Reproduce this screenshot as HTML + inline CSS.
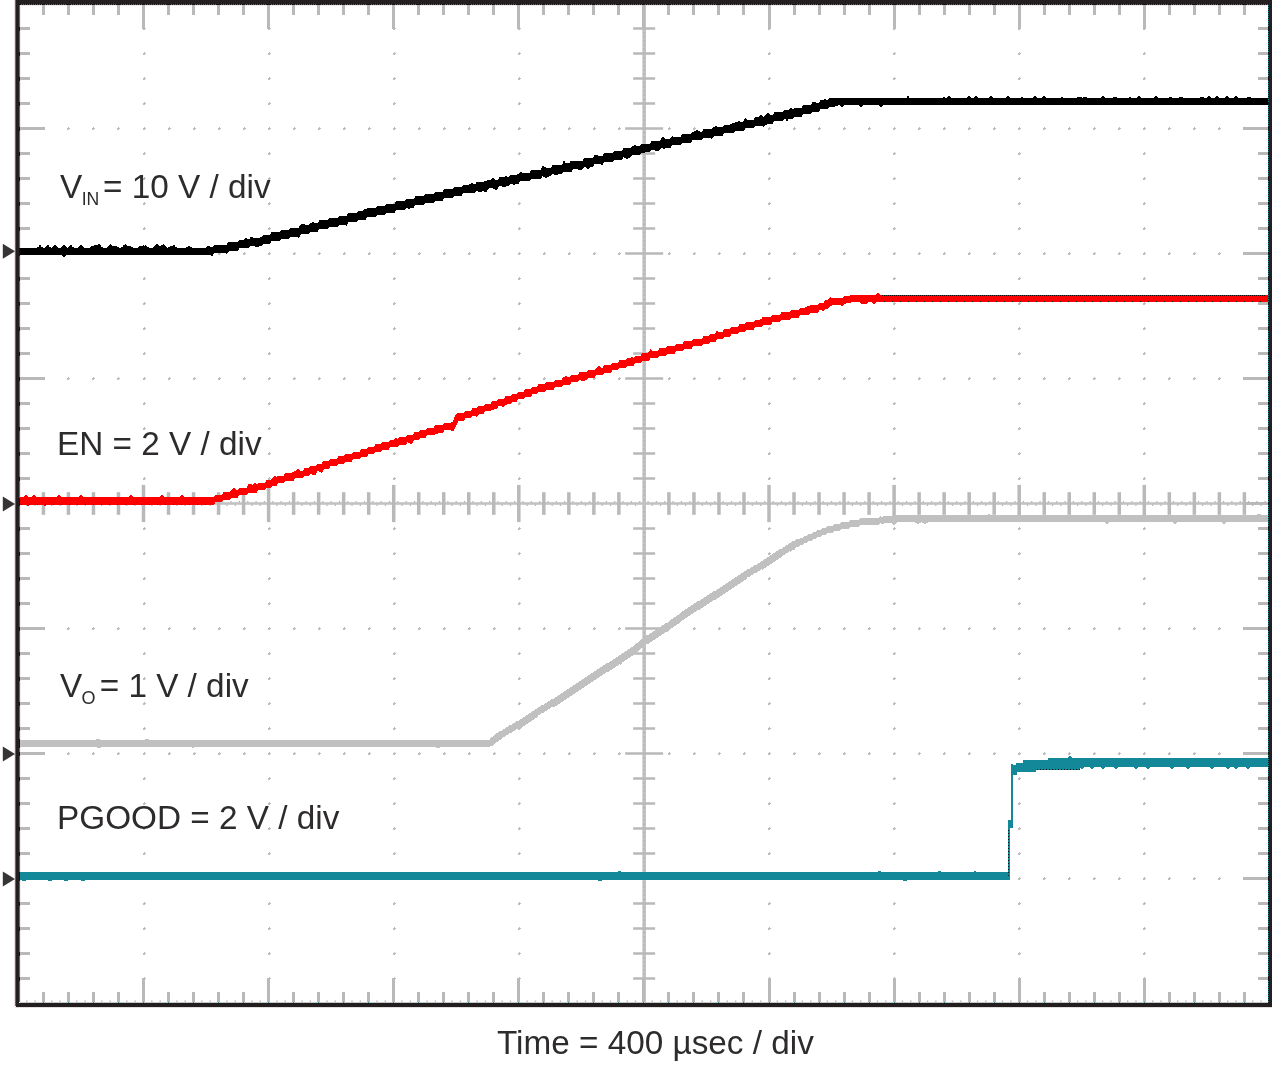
<!DOCTYPE html>
<html><head><meta charset="utf-8"><title>Soft-start waveforms: VIN, EN, VO, PGOOD</title>
<style>html,body{margin:0;padding:0;background:#fff;}svg{display:block;}</style></head>
<body><svg width="1272" height="1070" viewBox="0 0 1272 1070">
<rect width="1272" height="1070" fill="#fff"/>
<g shape-rendering="crispEdges"><rect x="14" y="0" width="1" height="1007" fill="#ece2e2"/><rect x="20" y="5" width="1" height="997" fill="#f3eaea"/><rect x="20" y="5" width="1248" height="1" fill="#f3eaea"/><rect x="15" y="1007" width="1257" height="1" fill="#e4e0e0"/></g>
<g fill="#bdbdbd" shape-rendering="crispEdges">
<path d="M143 28h2v2h-2zM144 27h1v1h-1zM145 28h1v1h-1z"/>
<path d="M143 53h2v2h-2zM144 52h1v1h-1zM145 53h1v1h-1z"/>
<path d="M143 78h2v2h-2zM144 77h1v1h-1zM145 78h1v1h-1z"/>
<path d="M143 103h2v2h-2zM144 102h1v1h-1zM145 103h1v1h-1z"/>
<path d="M143 128h2v2h-2zM144 127h1v1h-1zM145 128h1v1h-1z"/>
<path d="M143 153h2v2h-2zM144 152h1v1h-1zM145 153h1v1h-1z"/>
<path d="M143 178h2v2h-2zM144 177h1v1h-1zM145 178h1v1h-1z"/>
<path d="M143 203h2v2h-2zM144 202h1v1h-1zM145 203h1v1h-1z"/>
<path d="M143 228h2v2h-2zM144 227h1v1h-1zM145 228h1v1h-1z"/>
<path d="M143 253h2v2h-2zM144 252h1v1h-1zM145 253h1v1h-1z"/>
<path d="M143 278h2v2h-2zM144 277h1v1h-1zM145 278h1v1h-1z"/>
<path d="M143 303h2v2h-2zM144 302h1v1h-1zM145 303h1v1h-1z"/>
<path d="M143 328h2v2h-2zM144 327h1v1h-1zM145 328h1v1h-1z"/>
<path d="M143 353h2v2h-2zM144 352h1v1h-1zM145 353h1v1h-1z"/>
<path d="M143 378h2v2h-2zM144 377h1v1h-1zM145 378h1v1h-1z"/>
<path d="M143 403h2v2h-2zM144 402h1v1h-1zM145 403h1v1h-1z"/>
<path d="M143 428h2v2h-2zM144 427h1v1h-1zM145 428h1v1h-1z"/>
<path d="M143 453h2v2h-2zM144 452h1v1h-1zM145 453h1v1h-1z"/>
<path d="M143 478h2v2h-2zM144 477h1v1h-1zM145 478h1v1h-1z"/>
<path d="M143 528h2v2h-2zM144 527h1v1h-1zM145 528h1v1h-1z"/>
<path d="M143 553h2v2h-2zM144 552h1v1h-1zM145 553h1v1h-1z"/>
<path d="M143 578h2v2h-2zM144 577h1v1h-1zM145 578h1v1h-1z"/>
<path d="M143 603h2v2h-2zM144 602h1v1h-1zM145 603h1v1h-1z"/>
<path d="M143 628h2v2h-2zM144 627h1v1h-1zM145 628h1v1h-1z"/>
<path d="M143 653h2v2h-2zM144 652h1v1h-1zM145 653h1v1h-1z"/>
<path d="M143 678h2v2h-2zM144 677h1v1h-1zM145 678h1v1h-1z"/>
<path d="M143 703h2v2h-2zM144 702h1v1h-1zM145 703h1v1h-1z"/>
<path d="M143 728h2v2h-2zM144 727h1v1h-1zM145 728h1v1h-1z"/>
<path d="M143 753h2v2h-2zM144 752h1v1h-1zM145 753h1v1h-1z"/>
<path d="M143 778h2v2h-2zM144 777h1v1h-1zM145 778h1v1h-1z"/>
<path d="M143 803h2v2h-2zM144 802h1v1h-1zM145 803h1v1h-1z"/>
<path d="M143 828h2v2h-2zM144 827h1v1h-1zM145 828h1v1h-1z"/>
<path d="M143 853h2v2h-2zM144 852h1v1h-1zM145 853h1v1h-1z"/>
<path d="M143 878h2v2h-2zM144 877h1v1h-1zM145 878h1v1h-1z"/>
<path d="M143 903h2v2h-2zM144 902h1v1h-1zM145 903h1v1h-1z"/>
<path d="M143 928h2v2h-2zM144 927h1v1h-1zM145 928h1v1h-1z"/>
<path d="M143 953h2v2h-2zM144 952h1v1h-1zM145 953h1v1h-1z"/>
<path d="M143 978h2v2h-2zM144 977h1v1h-1zM145 978h1v1h-1z"/>
<path d="M268 28h2v2h-2zM269 27h1v1h-1zM270 28h1v1h-1z"/>
<path d="M268 53h2v2h-2zM269 52h1v1h-1zM270 53h1v1h-1z"/>
<path d="M268 78h2v2h-2zM269 77h1v1h-1zM270 78h1v1h-1z"/>
<path d="M268 103h2v2h-2zM269 102h1v1h-1zM270 103h1v1h-1z"/>
<path d="M268 128h2v2h-2zM269 127h1v1h-1zM270 128h1v1h-1z"/>
<path d="M268 153h2v2h-2zM269 152h1v1h-1zM270 153h1v1h-1z"/>
<path d="M268 178h2v2h-2zM269 177h1v1h-1zM270 178h1v1h-1z"/>
<path d="M268 203h2v2h-2zM269 202h1v1h-1zM270 203h1v1h-1z"/>
<path d="M268 228h2v2h-2zM269 227h1v1h-1zM270 228h1v1h-1z"/>
<path d="M268 253h2v2h-2zM269 252h1v1h-1zM270 253h1v1h-1z"/>
<path d="M268 278h2v2h-2zM269 277h1v1h-1zM270 278h1v1h-1z"/>
<path d="M268 303h2v2h-2zM269 302h1v1h-1zM270 303h1v1h-1z"/>
<path d="M268 328h2v2h-2zM269 327h1v1h-1zM270 328h1v1h-1z"/>
<path d="M268 353h2v2h-2zM269 352h1v1h-1zM270 353h1v1h-1z"/>
<path d="M268 378h2v2h-2zM269 377h1v1h-1zM270 378h1v1h-1z"/>
<path d="M268 403h2v2h-2zM269 402h1v1h-1zM270 403h1v1h-1z"/>
<path d="M268 428h2v2h-2zM269 427h1v1h-1zM270 428h1v1h-1z"/>
<path d="M268 453h2v2h-2zM269 452h1v1h-1zM270 453h1v1h-1z"/>
<path d="M268 478h2v2h-2zM269 477h1v1h-1zM270 478h1v1h-1z"/>
<path d="M268 528h2v2h-2zM269 527h1v1h-1zM270 528h1v1h-1z"/>
<path d="M268 553h2v2h-2zM269 552h1v1h-1zM270 553h1v1h-1z"/>
<path d="M268 578h2v2h-2zM269 577h1v1h-1zM270 578h1v1h-1z"/>
<path d="M268 603h2v2h-2zM269 602h1v1h-1zM270 603h1v1h-1z"/>
<path d="M268 628h2v2h-2zM269 627h1v1h-1zM270 628h1v1h-1z"/>
<path d="M268 653h2v2h-2zM269 652h1v1h-1zM270 653h1v1h-1z"/>
<path d="M268 678h2v2h-2zM269 677h1v1h-1zM270 678h1v1h-1z"/>
<path d="M268 703h2v2h-2zM269 702h1v1h-1zM270 703h1v1h-1z"/>
<path d="M268 728h2v2h-2zM269 727h1v1h-1zM270 728h1v1h-1z"/>
<path d="M268 753h2v2h-2zM269 752h1v1h-1zM270 753h1v1h-1z"/>
<path d="M268 778h2v2h-2zM269 777h1v1h-1zM270 778h1v1h-1z"/>
<path d="M268 803h2v2h-2zM269 802h1v1h-1zM270 803h1v1h-1z"/>
<path d="M268 828h2v2h-2zM269 827h1v1h-1zM270 828h1v1h-1z"/>
<path d="M268 853h2v2h-2zM269 852h1v1h-1zM270 853h1v1h-1z"/>
<path d="M268 878h2v2h-2zM269 877h1v1h-1zM270 878h1v1h-1z"/>
<path d="M268 903h2v2h-2zM269 902h1v1h-1zM270 903h1v1h-1z"/>
<path d="M268 928h2v2h-2zM269 927h1v1h-1zM270 928h1v1h-1z"/>
<path d="M268 953h2v2h-2zM269 952h1v1h-1zM270 953h1v1h-1z"/>
<path d="M268 978h2v2h-2zM269 977h1v1h-1zM270 978h1v1h-1z"/>
<path d="M393 28h2v2h-2zM394 27h1v1h-1zM395 28h1v1h-1z"/>
<path d="M393 53h2v2h-2zM394 52h1v1h-1zM395 53h1v1h-1z"/>
<path d="M393 78h2v2h-2zM394 77h1v1h-1zM395 78h1v1h-1z"/>
<path d="M393 103h2v2h-2zM394 102h1v1h-1zM395 103h1v1h-1z"/>
<path d="M393 128h2v2h-2zM394 127h1v1h-1zM395 128h1v1h-1z"/>
<path d="M393 153h2v2h-2zM394 152h1v1h-1zM395 153h1v1h-1z"/>
<path d="M393 178h2v2h-2zM394 177h1v1h-1zM395 178h1v1h-1z"/>
<path d="M393 203h2v2h-2zM394 202h1v1h-1zM395 203h1v1h-1z"/>
<path d="M393 228h2v2h-2zM394 227h1v1h-1zM395 228h1v1h-1z"/>
<path d="M393 253h2v2h-2zM394 252h1v1h-1zM395 253h1v1h-1z"/>
<path d="M393 278h2v2h-2zM394 277h1v1h-1zM395 278h1v1h-1z"/>
<path d="M393 303h2v2h-2zM394 302h1v1h-1zM395 303h1v1h-1z"/>
<path d="M393 328h2v2h-2zM394 327h1v1h-1zM395 328h1v1h-1z"/>
<path d="M393 353h2v2h-2zM394 352h1v1h-1zM395 353h1v1h-1z"/>
<path d="M393 378h2v2h-2zM394 377h1v1h-1zM395 378h1v1h-1z"/>
<path d="M393 403h2v2h-2zM394 402h1v1h-1zM395 403h1v1h-1z"/>
<path d="M393 428h2v2h-2zM394 427h1v1h-1zM395 428h1v1h-1z"/>
<path d="M393 453h2v2h-2zM394 452h1v1h-1zM395 453h1v1h-1z"/>
<path d="M393 478h2v2h-2zM394 477h1v1h-1zM395 478h1v1h-1z"/>
<path d="M393 528h2v2h-2zM394 527h1v1h-1zM395 528h1v1h-1z"/>
<path d="M393 553h2v2h-2zM394 552h1v1h-1zM395 553h1v1h-1z"/>
<path d="M393 578h2v2h-2zM394 577h1v1h-1zM395 578h1v1h-1z"/>
<path d="M393 603h2v2h-2zM394 602h1v1h-1zM395 603h1v1h-1z"/>
<path d="M393 628h2v2h-2zM394 627h1v1h-1zM395 628h1v1h-1z"/>
<path d="M393 653h2v2h-2zM394 652h1v1h-1zM395 653h1v1h-1z"/>
<path d="M393 678h2v2h-2zM394 677h1v1h-1zM395 678h1v1h-1z"/>
<path d="M393 703h2v2h-2zM394 702h1v1h-1zM395 703h1v1h-1z"/>
<path d="M393 728h2v2h-2zM394 727h1v1h-1zM395 728h1v1h-1z"/>
<path d="M393 753h2v2h-2zM394 752h1v1h-1zM395 753h1v1h-1z"/>
<path d="M393 778h2v2h-2zM394 777h1v1h-1zM395 778h1v1h-1z"/>
<path d="M393 803h2v2h-2zM394 802h1v1h-1zM395 803h1v1h-1z"/>
<path d="M393 828h2v2h-2zM394 827h1v1h-1zM395 828h1v1h-1z"/>
<path d="M393 853h2v2h-2zM394 852h1v1h-1zM395 853h1v1h-1z"/>
<path d="M393 878h2v2h-2zM394 877h1v1h-1zM395 878h1v1h-1z"/>
<path d="M393 903h2v2h-2zM394 902h1v1h-1zM395 903h1v1h-1z"/>
<path d="M393 928h2v2h-2zM394 927h1v1h-1zM395 928h1v1h-1z"/>
<path d="M393 953h2v2h-2zM394 952h1v1h-1zM395 953h1v1h-1z"/>
<path d="M393 978h2v2h-2zM394 977h1v1h-1zM395 978h1v1h-1z"/>
<path d="M518 28h2v2h-2zM519 27h1v1h-1zM520 28h1v1h-1z"/>
<path d="M518 53h2v2h-2zM519 52h1v1h-1zM520 53h1v1h-1z"/>
<path d="M518 78h2v2h-2zM519 77h1v1h-1zM520 78h1v1h-1z"/>
<path d="M518 103h2v2h-2zM519 102h1v1h-1zM520 103h1v1h-1z"/>
<path d="M518 128h2v2h-2zM519 127h1v1h-1zM520 128h1v1h-1z"/>
<path d="M518 153h2v2h-2zM519 152h1v1h-1zM520 153h1v1h-1z"/>
<path d="M518 178h2v2h-2zM519 177h1v1h-1zM520 178h1v1h-1z"/>
<path d="M518 203h2v2h-2zM519 202h1v1h-1zM520 203h1v1h-1z"/>
<path d="M518 228h2v2h-2zM519 227h1v1h-1zM520 228h1v1h-1z"/>
<path d="M518 253h2v2h-2zM519 252h1v1h-1zM520 253h1v1h-1z"/>
<path d="M518 278h2v2h-2zM519 277h1v1h-1zM520 278h1v1h-1z"/>
<path d="M518 303h2v2h-2zM519 302h1v1h-1zM520 303h1v1h-1z"/>
<path d="M518 328h2v2h-2zM519 327h1v1h-1zM520 328h1v1h-1z"/>
<path d="M518 353h2v2h-2zM519 352h1v1h-1zM520 353h1v1h-1z"/>
<path d="M518 378h2v2h-2zM519 377h1v1h-1zM520 378h1v1h-1z"/>
<path d="M518 403h2v2h-2zM519 402h1v1h-1zM520 403h1v1h-1z"/>
<path d="M518 428h2v2h-2zM519 427h1v1h-1zM520 428h1v1h-1z"/>
<path d="M518 453h2v2h-2zM519 452h1v1h-1zM520 453h1v1h-1z"/>
<path d="M518 478h2v2h-2zM519 477h1v1h-1zM520 478h1v1h-1z"/>
<path d="M518 528h2v2h-2zM519 527h1v1h-1zM520 528h1v1h-1z"/>
<path d="M518 553h2v2h-2zM519 552h1v1h-1zM520 553h1v1h-1z"/>
<path d="M518 578h2v2h-2zM519 577h1v1h-1zM520 578h1v1h-1z"/>
<path d="M518 603h2v2h-2zM519 602h1v1h-1zM520 603h1v1h-1z"/>
<path d="M518 628h2v2h-2zM519 627h1v1h-1zM520 628h1v1h-1z"/>
<path d="M518 653h2v2h-2zM519 652h1v1h-1zM520 653h1v1h-1z"/>
<path d="M518 678h2v2h-2zM519 677h1v1h-1zM520 678h1v1h-1z"/>
<path d="M518 703h2v2h-2zM519 702h1v1h-1zM520 703h1v1h-1z"/>
<path d="M518 728h2v2h-2zM519 727h1v1h-1zM520 728h1v1h-1z"/>
<path d="M518 753h2v2h-2zM519 752h1v1h-1zM520 753h1v1h-1z"/>
<path d="M518 778h2v2h-2zM519 777h1v1h-1zM520 778h1v1h-1z"/>
<path d="M518 803h2v2h-2zM519 802h1v1h-1zM520 803h1v1h-1z"/>
<path d="M518 828h2v2h-2zM519 827h1v1h-1zM520 828h1v1h-1z"/>
<path d="M518 853h2v2h-2zM519 852h1v1h-1zM520 853h1v1h-1z"/>
<path d="M518 878h2v2h-2zM519 877h1v1h-1zM520 878h1v1h-1z"/>
<path d="M518 903h2v2h-2zM519 902h1v1h-1zM520 903h1v1h-1z"/>
<path d="M518 928h2v2h-2zM519 927h1v1h-1zM520 928h1v1h-1z"/>
<path d="M518 953h2v2h-2zM519 952h1v1h-1zM520 953h1v1h-1z"/>
<path d="M518 978h2v2h-2zM519 977h1v1h-1zM520 978h1v1h-1z"/>
<path d="M768 28h2v2h-2zM769 27h1v1h-1zM770 28h1v1h-1z"/>
<path d="M768 53h2v2h-2zM769 52h1v1h-1zM770 53h1v1h-1z"/>
<path d="M768 78h2v2h-2zM769 77h1v1h-1zM770 78h1v1h-1z"/>
<path d="M768 103h2v2h-2zM769 102h1v1h-1zM770 103h1v1h-1z"/>
<path d="M768 128h2v2h-2zM769 127h1v1h-1zM770 128h1v1h-1z"/>
<path d="M768 153h2v2h-2zM769 152h1v1h-1zM770 153h1v1h-1z"/>
<path d="M768 178h2v2h-2zM769 177h1v1h-1zM770 178h1v1h-1z"/>
<path d="M768 203h2v2h-2zM769 202h1v1h-1zM770 203h1v1h-1z"/>
<path d="M768 228h2v2h-2zM769 227h1v1h-1zM770 228h1v1h-1z"/>
<path d="M768 253h2v2h-2zM769 252h1v1h-1zM770 253h1v1h-1z"/>
<path d="M768 278h2v2h-2zM769 277h1v1h-1zM770 278h1v1h-1z"/>
<path d="M768 303h2v2h-2zM769 302h1v1h-1zM770 303h1v1h-1z"/>
<path d="M768 328h2v2h-2zM769 327h1v1h-1zM770 328h1v1h-1z"/>
<path d="M768 353h2v2h-2zM769 352h1v1h-1zM770 353h1v1h-1z"/>
<path d="M768 378h2v2h-2zM769 377h1v1h-1zM770 378h1v1h-1z"/>
<path d="M768 403h2v2h-2zM769 402h1v1h-1zM770 403h1v1h-1z"/>
<path d="M768 428h2v2h-2zM769 427h1v1h-1zM770 428h1v1h-1z"/>
<path d="M768 453h2v2h-2zM769 452h1v1h-1zM770 453h1v1h-1z"/>
<path d="M768 478h2v2h-2zM769 477h1v1h-1zM770 478h1v1h-1z"/>
<path d="M768 528h2v2h-2zM769 527h1v1h-1zM770 528h1v1h-1z"/>
<path d="M768 553h2v2h-2zM769 552h1v1h-1zM770 553h1v1h-1z"/>
<path d="M768 578h2v2h-2zM769 577h1v1h-1zM770 578h1v1h-1z"/>
<path d="M768 603h2v2h-2zM769 602h1v1h-1zM770 603h1v1h-1z"/>
<path d="M768 628h2v2h-2zM769 627h1v1h-1zM770 628h1v1h-1z"/>
<path d="M768 653h2v2h-2zM769 652h1v1h-1zM770 653h1v1h-1z"/>
<path d="M768 678h2v2h-2zM769 677h1v1h-1zM770 678h1v1h-1z"/>
<path d="M768 703h2v2h-2zM769 702h1v1h-1zM770 703h1v1h-1z"/>
<path d="M768 728h2v2h-2zM769 727h1v1h-1zM770 728h1v1h-1z"/>
<path d="M768 753h2v2h-2zM769 752h1v1h-1zM770 753h1v1h-1z"/>
<path d="M768 778h2v2h-2zM769 777h1v1h-1zM770 778h1v1h-1z"/>
<path d="M768 803h2v2h-2zM769 802h1v1h-1zM770 803h1v1h-1z"/>
<path d="M768 828h2v2h-2zM769 827h1v1h-1zM770 828h1v1h-1z"/>
<path d="M768 853h2v2h-2zM769 852h1v1h-1zM770 853h1v1h-1z"/>
<path d="M768 878h2v2h-2zM769 877h1v1h-1zM770 878h1v1h-1z"/>
<path d="M768 903h2v2h-2zM769 902h1v1h-1zM770 903h1v1h-1z"/>
<path d="M768 928h2v2h-2zM769 927h1v1h-1zM770 928h1v1h-1z"/>
<path d="M768 953h2v2h-2zM769 952h1v1h-1zM770 953h1v1h-1z"/>
<path d="M768 978h2v2h-2zM769 977h1v1h-1zM770 978h1v1h-1z"/>
<path d="M893 28h2v2h-2zM894 27h1v1h-1zM895 28h1v1h-1z"/>
<path d="M893 53h2v2h-2zM894 52h1v1h-1zM895 53h1v1h-1z"/>
<path d="M893 78h2v2h-2zM894 77h1v1h-1zM895 78h1v1h-1z"/>
<path d="M893 103h2v2h-2zM894 102h1v1h-1zM895 103h1v1h-1z"/>
<path d="M893 128h2v2h-2zM894 127h1v1h-1zM895 128h1v1h-1z"/>
<path d="M893 153h2v2h-2zM894 152h1v1h-1zM895 153h1v1h-1z"/>
<path d="M893 178h2v2h-2zM894 177h1v1h-1zM895 178h1v1h-1z"/>
<path d="M893 203h2v2h-2zM894 202h1v1h-1zM895 203h1v1h-1z"/>
<path d="M893 228h2v2h-2zM894 227h1v1h-1zM895 228h1v1h-1z"/>
<path d="M893 253h2v2h-2zM894 252h1v1h-1zM895 253h1v1h-1z"/>
<path d="M893 278h2v2h-2zM894 277h1v1h-1zM895 278h1v1h-1z"/>
<path d="M893 303h2v2h-2zM894 302h1v1h-1zM895 303h1v1h-1z"/>
<path d="M893 328h2v2h-2zM894 327h1v1h-1zM895 328h1v1h-1z"/>
<path d="M893 353h2v2h-2zM894 352h1v1h-1zM895 353h1v1h-1z"/>
<path d="M893 378h2v2h-2zM894 377h1v1h-1zM895 378h1v1h-1z"/>
<path d="M893 403h2v2h-2zM894 402h1v1h-1zM895 403h1v1h-1z"/>
<path d="M893 428h2v2h-2zM894 427h1v1h-1zM895 428h1v1h-1z"/>
<path d="M893 453h2v2h-2zM894 452h1v1h-1zM895 453h1v1h-1z"/>
<path d="M893 478h2v2h-2zM894 477h1v1h-1zM895 478h1v1h-1z"/>
<path d="M893 528h2v2h-2zM894 527h1v1h-1zM895 528h1v1h-1z"/>
<path d="M893 553h2v2h-2zM894 552h1v1h-1zM895 553h1v1h-1z"/>
<path d="M893 578h2v2h-2zM894 577h1v1h-1zM895 578h1v1h-1z"/>
<path d="M893 603h2v2h-2zM894 602h1v1h-1zM895 603h1v1h-1z"/>
<path d="M893 628h2v2h-2zM894 627h1v1h-1zM895 628h1v1h-1z"/>
<path d="M893 653h2v2h-2zM894 652h1v1h-1zM895 653h1v1h-1z"/>
<path d="M893 678h2v2h-2zM894 677h1v1h-1zM895 678h1v1h-1z"/>
<path d="M893 703h2v2h-2zM894 702h1v1h-1zM895 703h1v1h-1z"/>
<path d="M893 728h2v2h-2zM894 727h1v1h-1zM895 728h1v1h-1z"/>
<path d="M893 753h2v2h-2zM894 752h1v1h-1zM895 753h1v1h-1z"/>
<path d="M893 778h2v2h-2zM894 777h1v1h-1zM895 778h1v1h-1z"/>
<path d="M893 803h2v2h-2zM894 802h1v1h-1zM895 803h1v1h-1z"/>
<path d="M893 828h2v2h-2zM894 827h1v1h-1zM895 828h1v1h-1z"/>
<path d="M893 853h2v2h-2zM894 852h1v1h-1zM895 853h1v1h-1z"/>
<path d="M893 878h2v2h-2zM894 877h1v1h-1zM895 878h1v1h-1z"/>
<path d="M893 903h2v2h-2zM894 902h1v1h-1zM895 903h1v1h-1z"/>
<path d="M893 928h2v2h-2zM894 927h1v1h-1zM895 928h1v1h-1z"/>
<path d="M893 953h2v2h-2zM894 952h1v1h-1zM895 953h1v1h-1z"/>
<path d="M893 978h2v2h-2zM894 977h1v1h-1zM895 978h1v1h-1z"/>
<path d="M1018 28h2v2h-2zM1019 27h1v1h-1zM1020 28h1v1h-1z"/>
<path d="M1018 53h2v2h-2zM1019 52h1v1h-1zM1020 53h1v1h-1z"/>
<path d="M1018 78h2v2h-2zM1019 77h1v1h-1zM1020 78h1v1h-1z"/>
<path d="M1018 103h2v2h-2zM1019 102h1v1h-1zM1020 103h1v1h-1z"/>
<path d="M1018 128h2v2h-2zM1019 127h1v1h-1zM1020 128h1v1h-1z"/>
<path d="M1018 153h2v2h-2zM1019 152h1v1h-1zM1020 153h1v1h-1z"/>
<path d="M1018 178h2v2h-2zM1019 177h1v1h-1zM1020 178h1v1h-1z"/>
<path d="M1018 203h2v2h-2zM1019 202h1v1h-1zM1020 203h1v1h-1z"/>
<path d="M1018 228h2v2h-2zM1019 227h1v1h-1zM1020 228h1v1h-1z"/>
<path d="M1018 253h2v2h-2zM1019 252h1v1h-1zM1020 253h1v1h-1z"/>
<path d="M1018 278h2v2h-2zM1019 277h1v1h-1zM1020 278h1v1h-1z"/>
<path d="M1018 303h2v2h-2zM1019 302h1v1h-1zM1020 303h1v1h-1z"/>
<path d="M1018 328h2v2h-2zM1019 327h1v1h-1zM1020 328h1v1h-1z"/>
<path d="M1018 353h2v2h-2zM1019 352h1v1h-1zM1020 353h1v1h-1z"/>
<path d="M1018 378h2v2h-2zM1019 377h1v1h-1zM1020 378h1v1h-1z"/>
<path d="M1018 403h2v2h-2zM1019 402h1v1h-1zM1020 403h1v1h-1z"/>
<path d="M1018 428h2v2h-2zM1019 427h1v1h-1zM1020 428h1v1h-1z"/>
<path d="M1018 453h2v2h-2zM1019 452h1v1h-1zM1020 453h1v1h-1z"/>
<path d="M1018 478h2v2h-2zM1019 477h1v1h-1zM1020 478h1v1h-1z"/>
<path d="M1018 528h2v2h-2zM1019 527h1v1h-1zM1020 528h1v1h-1z"/>
<path d="M1018 553h2v2h-2zM1019 552h1v1h-1zM1020 553h1v1h-1z"/>
<path d="M1018 578h2v2h-2zM1019 577h1v1h-1zM1020 578h1v1h-1z"/>
<path d="M1018 603h2v2h-2zM1019 602h1v1h-1zM1020 603h1v1h-1z"/>
<path d="M1018 628h2v2h-2zM1019 627h1v1h-1zM1020 628h1v1h-1z"/>
<path d="M1018 653h2v2h-2zM1019 652h1v1h-1zM1020 653h1v1h-1z"/>
<path d="M1018 678h2v2h-2zM1019 677h1v1h-1zM1020 678h1v1h-1z"/>
<path d="M1018 703h2v2h-2zM1019 702h1v1h-1zM1020 703h1v1h-1z"/>
<path d="M1018 728h2v2h-2zM1019 727h1v1h-1zM1020 728h1v1h-1z"/>
<path d="M1018 753h2v2h-2zM1019 752h1v1h-1zM1020 753h1v1h-1z"/>
<path d="M1018 778h2v2h-2zM1019 777h1v1h-1zM1020 778h1v1h-1z"/>
<path d="M1018 803h2v2h-2zM1019 802h1v1h-1zM1020 803h1v1h-1z"/>
<path d="M1018 828h2v2h-2zM1019 827h1v1h-1zM1020 828h1v1h-1z"/>
<path d="M1018 853h2v2h-2zM1019 852h1v1h-1zM1020 853h1v1h-1z"/>
<path d="M1018 878h2v2h-2zM1019 877h1v1h-1zM1020 878h1v1h-1z"/>
<path d="M1018 903h2v2h-2zM1019 902h1v1h-1zM1020 903h1v1h-1z"/>
<path d="M1018 928h2v2h-2zM1019 927h1v1h-1zM1020 928h1v1h-1z"/>
<path d="M1018 953h2v2h-2zM1019 952h1v1h-1zM1020 953h1v1h-1z"/>
<path d="M1018 978h2v2h-2zM1019 977h1v1h-1zM1020 978h1v1h-1z"/>
<path d="M1143 28h2v2h-2zM1144 27h1v1h-1zM1145 28h1v1h-1z"/>
<path d="M1143 53h2v2h-2zM1144 52h1v1h-1zM1145 53h1v1h-1z"/>
<path d="M1143 78h2v2h-2zM1144 77h1v1h-1zM1145 78h1v1h-1z"/>
<path d="M1143 103h2v2h-2zM1144 102h1v1h-1zM1145 103h1v1h-1z"/>
<path d="M1143 128h2v2h-2zM1144 127h1v1h-1zM1145 128h1v1h-1z"/>
<path d="M1143 153h2v2h-2zM1144 152h1v1h-1zM1145 153h1v1h-1z"/>
<path d="M1143 178h2v2h-2zM1144 177h1v1h-1zM1145 178h1v1h-1z"/>
<path d="M1143 203h2v2h-2zM1144 202h1v1h-1zM1145 203h1v1h-1z"/>
<path d="M1143 228h2v2h-2zM1144 227h1v1h-1zM1145 228h1v1h-1z"/>
<path d="M1143 253h2v2h-2zM1144 252h1v1h-1zM1145 253h1v1h-1z"/>
<path d="M1143 278h2v2h-2zM1144 277h1v1h-1zM1145 278h1v1h-1z"/>
<path d="M1143 303h2v2h-2zM1144 302h1v1h-1zM1145 303h1v1h-1z"/>
<path d="M1143 328h2v2h-2zM1144 327h1v1h-1zM1145 328h1v1h-1z"/>
<path d="M1143 353h2v2h-2zM1144 352h1v1h-1zM1145 353h1v1h-1z"/>
<path d="M1143 378h2v2h-2zM1144 377h1v1h-1zM1145 378h1v1h-1z"/>
<path d="M1143 403h2v2h-2zM1144 402h1v1h-1zM1145 403h1v1h-1z"/>
<path d="M1143 428h2v2h-2zM1144 427h1v1h-1zM1145 428h1v1h-1z"/>
<path d="M1143 453h2v2h-2zM1144 452h1v1h-1zM1145 453h1v1h-1z"/>
<path d="M1143 478h2v2h-2zM1144 477h1v1h-1zM1145 478h1v1h-1z"/>
<path d="M1143 528h2v2h-2zM1144 527h1v1h-1zM1145 528h1v1h-1z"/>
<path d="M1143 553h2v2h-2zM1144 552h1v1h-1zM1145 553h1v1h-1z"/>
<path d="M1143 578h2v2h-2zM1144 577h1v1h-1zM1145 578h1v1h-1z"/>
<path d="M1143 603h2v2h-2zM1144 602h1v1h-1zM1145 603h1v1h-1z"/>
<path d="M1143 628h2v2h-2zM1144 627h1v1h-1zM1145 628h1v1h-1z"/>
<path d="M1143 653h2v2h-2zM1144 652h1v1h-1zM1145 653h1v1h-1z"/>
<path d="M1143 678h2v2h-2zM1144 677h1v1h-1zM1145 678h1v1h-1z"/>
<path d="M1143 703h2v2h-2zM1144 702h1v1h-1zM1145 703h1v1h-1z"/>
<path d="M1143 728h2v2h-2zM1144 727h1v1h-1zM1145 728h1v1h-1z"/>
<path d="M1143 753h2v2h-2zM1144 752h1v1h-1zM1145 753h1v1h-1z"/>
<path d="M1143 778h2v2h-2zM1144 777h1v1h-1zM1145 778h1v1h-1z"/>
<path d="M1143 803h2v2h-2zM1144 802h1v1h-1zM1145 803h1v1h-1z"/>
<path d="M1143 828h2v2h-2zM1144 827h1v1h-1zM1145 828h1v1h-1z"/>
<path d="M1143 853h2v2h-2zM1144 852h1v1h-1zM1145 853h1v1h-1z"/>
<path d="M1143 878h2v2h-2zM1144 877h1v1h-1zM1145 878h1v1h-1z"/>
<path d="M1143 903h2v2h-2zM1144 902h1v1h-1zM1145 903h1v1h-1z"/>
<path d="M1143 928h2v2h-2zM1144 927h1v1h-1zM1145 928h1v1h-1z"/>
<path d="M1143 953h2v2h-2zM1144 952h1v1h-1zM1145 953h1v1h-1z"/>
<path d="M1143 978h2v2h-2zM1144 977h1v1h-1zM1145 978h1v1h-1z"/>
<path d="M42 128h2v2h-2zM43 127h1v1h-1zM44 128h1v1h-1z"/>
<path d="M67 128h2v2h-2zM68 127h1v1h-1zM69 128h1v1h-1z"/>
<path d="M92 128h2v2h-2zM93 127h1v1h-1zM94 128h1v1h-1z"/>
<path d="M117 128h2v2h-2zM118 127h1v1h-1zM119 128h1v1h-1z"/>
<path d="M168 128h2v2h-2zM169 127h1v1h-1zM170 128h1v1h-1z"/>
<path d="M193 128h2v2h-2zM194 127h1v1h-1zM195 128h1v1h-1z"/>
<path d="M218 128h2v2h-2zM219 127h1v1h-1zM220 128h1v1h-1z"/>
<path d="M243 128h2v2h-2zM244 127h1v1h-1zM245 128h1v1h-1z"/>
<path d="M293 128h2v2h-2zM294 127h1v1h-1zM295 128h1v1h-1z"/>
<path d="M318 128h2v2h-2zM319 127h1v1h-1zM320 128h1v1h-1z"/>
<path d="M343 128h2v2h-2zM344 127h1v1h-1zM345 128h1v1h-1z"/>
<path d="M368 128h2v2h-2zM369 127h1v1h-1zM370 128h1v1h-1z"/>
<path d="M418 128h2v2h-2zM419 127h1v1h-1zM420 128h1v1h-1z"/>
<path d="M443 128h2v2h-2zM444 127h1v1h-1zM445 128h1v1h-1z"/>
<path d="M468 128h2v2h-2zM469 127h1v1h-1zM470 128h1v1h-1z"/>
<path d="M493 128h2v2h-2zM494 127h1v1h-1zM495 128h1v1h-1z"/>
<path d="M543 128h2v2h-2zM544 127h1v1h-1zM545 128h1v1h-1z"/>
<path d="M568 128h2v2h-2zM569 127h1v1h-1zM570 128h1v1h-1z"/>
<path d="M593 128h2v2h-2zM594 127h1v1h-1zM595 128h1v1h-1z"/>
<path d="M618 128h2v2h-2zM619 127h1v1h-1zM620 128h1v1h-1z"/>
<path d="M668 128h2v2h-2zM669 127h1v1h-1zM670 128h1v1h-1z"/>
<path d="M693 128h2v2h-2zM694 127h1v1h-1zM695 128h1v1h-1z"/>
<path d="M718 128h2v2h-2zM719 127h1v1h-1zM720 128h1v1h-1z"/>
<path d="M743 128h2v2h-2zM744 127h1v1h-1zM745 128h1v1h-1z"/>
<path d="M793 128h2v2h-2zM794 127h1v1h-1zM795 128h1v1h-1z"/>
<path d="M818 128h2v2h-2zM819 127h1v1h-1zM820 128h1v1h-1z"/>
<path d="M843 128h2v2h-2zM844 127h1v1h-1zM845 128h1v1h-1z"/>
<path d="M868 128h2v2h-2zM869 127h1v1h-1zM870 128h1v1h-1z"/>
<path d="M918 128h2v2h-2zM919 127h1v1h-1zM920 128h1v1h-1z"/>
<path d="M943 128h2v2h-2zM944 127h1v1h-1zM945 128h1v1h-1z"/>
<path d="M968 128h2v2h-2zM969 127h1v1h-1zM970 128h1v1h-1z"/>
<path d="M993 128h2v2h-2zM994 127h1v1h-1zM995 128h1v1h-1z"/>
<path d="M1043 128h2v2h-2zM1044 127h1v1h-1zM1045 128h1v1h-1z"/>
<path d="M1068 128h2v2h-2zM1069 127h1v1h-1zM1070 128h1v1h-1z"/>
<path d="M1093 128h2v2h-2zM1094 127h1v1h-1zM1095 128h1v1h-1z"/>
<path d="M1118 128h2v2h-2zM1119 127h1v1h-1zM1120 128h1v1h-1z"/>
<path d="M1168 128h2v2h-2zM1169 127h1v1h-1zM1170 128h1v1h-1z"/>
<path d="M1193 128h2v2h-2zM1194 127h1v1h-1zM1195 128h1v1h-1z"/>
<path d="M1218 128h2v2h-2zM1219 127h1v1h-1zM1220 128h1v1h-1z"/>
<path d="M1243 128h2v2h-2zM1244 127h1v1h-1zM1245 128h1v1h-1z"/>
<path d="M42 253h2v2h-2zM43 252h1v1h-1zM44 253h1v1h-1z"/>
<path d="M67 253h2v2h-2zM68 252h1v1h-1zM69 253h1v1h-1z"/>
<path d="M92 253h2v2h-2zM93 252h1v1h-1zM94 253h1v1h-1z"/>
<path d="M117 253h2v2h-2zM118 252h1v1h-1zM119 253h1v1h-1z"/>
<path d="M168 253h2v2h-2zM169 252h1v1h-1zM170 253h1v1h-1z"/>
<path d="M193 253h2v2h-2zM194 252h1v1h-1zM195 253h1v1h-1z"/>
<path d="M218 253h2v2h-2zM219 252h1v1h-1zM220 253h1v1h-1z"/>
<path d="M243 253h2v2h-2zM244 252h1v1h-1zM245 253h1v1h-1z"/>
<path d="M293 253h2v2h-2zM294 252h1v1h-1zM295 253h1v1h-1z"/>
<path d="M318 253h2v2h-2zM319 252h1v1h-1zM320 253h1v1h-1z"/>
<path d="M343 253h2v2h-2zM344 252h1v1h-1zM345 253h1v1h-1z"/>
<path d="M368 253h2v2h-2zM369 252h1v1h-1zM370 253h1v1h-1z"/>
<path d="M418 253h2v2h-2zM419 252h1v1h-1zM420 253h1v1h-1z"/>
<path d="M443 253h2v2h-2zM444 252h1v1h-1zM445 253h1v1h-1z"/>
<path d="M468 253h2v2h-2zM469 252h1v1h-1zM470 253h1v1h-1z"/>
<path d="M493 253h2v2h-2zM494 252h1v1h-1zM495 253h1v1h-1z"/>
<path d="M543 253h2v2h-2zM544 252h1v1h-1zM545 253h1v1h-1z"/>
<path d="M568 253h2v2h-2zM569 252h1v1h-1zM570 253h1v1h-1z"/>
<path d="M593 253h2v2h-2zM594 252h1v1h-1zM595 253h1v1h-1z"/>
<path d="M618 253h2v2h-2zM619 252h1v1h-1zM620 253h1v1h-1z"/>
<path d="M668 253h2v2h-2zM669 252h1v1h-1zM670 253h1v1h-1z"/>
<path d="M693 253h2v2h-2zM694 252h1v1h-1zM695 253h1v1h-1z"/>
<path d="M718 253h2v2h-2zM719 252h1v1h-1zM720 253h1v1h-1z"/>
<path d="M743 253h2v2h-2zM744 252h1v1h-1zM745 253h1v1h-1z"/>
<path d="M793 253h2v2h-2zM794 252h1v1h-1zM795 253h1v1h-1z"/>
<path d="M818 253h2v2h-2zM819 252h1v1h-1zM820 253h1v1h-1z"/>
<path d="M843 253h2v2h-2zM844 252h1v1h-1zM845 253h1v1h-1z"/>
<path d="M868 253h2v2h-2zM869 252h1v1h-1zM870 253h1v1h-1z"/>
<path d="M918 253h2v2h-2zM919 252h1v1h-1zM920 253h1v1h-1z"/>
<path d="M943 253h2v2h-2zM944 252h1v1h-1zM945 253h1v1h-1z"/>
<path d="M968 253h2v2h-2zM969 252h1v1h-1zM970 253h1v1h-1z"/>
<path d="M993 253h2v2h-2zM994 252h1v1h-1zM995 253h1v1h-1z"/>
<path d="M1043 253h2v2h-2zM1044 252h1v1h-1zM1045 253h1v1h-1z"/>
<path d="M1068 253h2v2h-2zM1069 252h1v1h-1zM1070 253h1v1h-1z"/>
<path d="M1093 253h2v2h-2zM1094 252h1v1h-1zM1095 253h1v1h-1z"/>
<path d="M1118 253h2v2h-2zM1119 252h1v1h-1zM1120 253h1v1h-1z"/>
<path d="M1168 253h2v2h-2zM1169 252h1v1h-1zM1170 253h1v1h-1z"/>
<path d="M1193 253h2v2h-2zM1194 252h1v1h-1zM1195 253h1v1h-1z"/>
<path d="M1218 253h2v2h-2zM1219 252h1v1h-1zM1220 253h1v1h-1z"/>
<path d="M1243 253h2v2h-2zM1244 252h1v1h-1zM1245 253h1v1h-1z"/>
<path d="M42 378h2v2h-2zM43 377h1v1h-1zM44 378h1v1h-1z"/>
<path d="M67 378h2v2h-2zM68 377h1v1h-1zM69 378h1v1h-1z"/>
<path d="M92 378h2v2h-2zM93 377h1v1h-1zM94 378h1v1h-1z"/>
<path d="M117 378h2v2h-2zM118 377h1v1h-1zM119 378h1v1h-1z"/>
<path d="M168 378h2v2h-2zM169 377h1v1h-1zM170 378h1v1h-1z"/>
<path d="M193 378h2v2h-2zM194 377h1v1h-1zM195 378h1v1h-1z"/>
<path d="M218 378h2v2h-2zM219 377h1v1h-1zM220 378h1v1h-1z"/>
<path d="M243 378h2v2h-2zM244 377h1v1h-1zM245 378h1v1h-1z"/>
<path d="M293 378h2v2h-2zM294 377h1v1h-1zM295 378h1v1h-1z"/>
<path d="M318 378h2v2h-2zM319 377h1v1h-1zM320 378h1v1h-1z"/>
<path d="M343 378h2v2h-2zM344 377h1v1h-1zM345 378h1v1h-1z"/>
<path d="M368 378h2v2h-2zM369 377h1v1h-1zM370 378h1v1h-1z"/>
<path d="M418 378h2v2h-2zM419 377h1v1h-1zM420 378h1v1h-1z"/>
<path d="M443 378h2v2h-2zM444 377h1v1h-1zM445 378h1v1h-1z"/>
<path d="M468 378h2v2h-2zM469 377h1v1h-1zM470 378h1v1h-1z"/>
<path d="M493 378h2v2h-2zM494 377h1v1h-1zM495 378h1v1h-1z"/>
<path d="M543 378h2v2h-2zM544 377h1v1h-1zM545 378h1v1h-1z"/>
<path d="M568 378h2v2h-2zM569 377h1v1h-1zM570 378h1v1h-1z"/>
<path d="M593 378h2v2h-2zM594 377h1v1h-1zM595 378h1v1h-1z"/>
<path d="M618 378h2v2h-2zM619 377h1v1h-1zM620 378h1v1h-1z"/>
<path d="M668 378h2v2h-2zM669 377h1v1h-1zM670 378h1v1h-1z"/>
<path d="M693 378h2v2h-2zM694 377h1v1h-1zM695 378h1v1h-1z"/>
<path d="M718 378h2v2h-2zM719 377h1v1h-1zM720 378h1v1h-1z"/>
<path d="M743 378h2v2h-2zM744 377h1v1h-1zM745 378h1v1h-1z"/>
<path d="M793 378h2v2h-2zM794 377h1v1h-1zM795 378h1v1h-1z"/>
<path d="M818 378h2v2h-2zM819 377h1v1h-1zM820 378h1v1h-1z"/>
<path d="M843 378h2v2h-2zM844 377h1v1h-1zM845 378h1v1h-1z"/>
<path d="M868 378h2v2h-2zM869 377h1v1h-1zM870 378h1v1h-1z"/>
<path d="M918 378h2v2h-2zM919 377h1v1h-1zM920 378h1v1h-1z"/>
<path d="M943 378h2v2h-2zM944 377h1v1h-1zM945 378h1v1h-1z"/>
<path d="M968 378h2v2h-2zM969 377h1v1h-1zM970 378h1v1h-1z"/>
<path d="M993 378h2v2h-2zM994 377h1v1h-1zM995 378h1v1h-1z"/>
<path d="M1043 378h2v2h-2zM1044 377h1v1h-1zM1045 378h1v1h-1z"/>
<path d="M1068 378h2v2h-2zM1069 377h1v1h-1zM1070 378h1v1h-1z"/>
<path d="M1093 378h2v2h-2zM1094 377h1v1h-1zM1095 378h1v1h-1z"/>
<path d="M1118 378h2v2h-2zM1119 377h1v1h-1zM1120 378h1v1h-1z"/>
<path d="M1168 378h2v2h-2zM1169 377h1v1h-1zM1170 378h1v1h-1z"/>
<path d="M1193 378h2v2h-2zM1194 377h1v1h-1zM1195 378h1v1h-1z"/>
<path d="M1218 378h2v2h-2zM1219 377h1v1h-1zM1220 378h1v1h-1z"/>
<path d="M1243 378h2v2h-2zM1244 377h1v1h-1zM1245 378h1v1h-1z"/>
<path d="M42 628h2v2h-2zM43 627h1v1h-1zM44 628h1v1h-1z"/>
<path d="M67 628h2v2h-2zM68 627h1v1h-1zM69 628h1v1h-1z"/>
<path d="M92 628h2v2h-2zM93 627h1v1h-1zM94 628h1v1h-1z"/>
<path d="M117 628h2v2h-2zM118 627h1v1h-1zM119 628h1v1h-1z"/>
<path d="M168 628h2v2h-2zM169 627h1v1h-1zM170 628h1v1h-1z"/>
<path d="M193 628h2v2h-2zM194 627h1v1h-1zM195 628h1v1h-1z"/>
<path d="M218 628h2v2h-2zM219 627h1v1h-1zM220 628h1v1h-1z"/>
<path d="M243 628h2v2h-2zM244 627h1v1h-1zM245 628h1v1h-1z"/>
<path d="M293 628h2v2h-2zM294 627h1v1h-1zM295 628h1v1h-1z"/>
<path d="M318 628h2v2h-2zM319 627h1v1h-1zM320 628h1v1h-1z"/>
<path d="M343 628h2v2h-2zM344 627h1v1h-1zM345 628h1v1h-1z"/>
<path d="M368 628h2v2h-2zM369 627h1v1h-1zM370 628h1v1h-1z"/>
<path d="M418 628h2v2h-2zM419 627h1v1h-1zM420 628h1v1h-1z"/>
<path d="M443 628h2v2h-2zM444 627h1v1h-1zM445 628h1v1h-1z"/>
<path d="M468 628h2v2h-2zM469 627h1v1h-1zM470 628h1v1h-1z"/>
<path d="M493 628h2v2h-2zM494 627h1v1h-1zM495 628h1v1h-1z"/>
<path d="M543 628h2v2h-2zM544 627h1v1h-1zM545 628h1v1h-1z"/>
<path d="M568 628h2v2h-2zM569 627h1v1h-1zM570 628h1v1h-1z"/>
<path d="M593 628h2v2h-2zM594 627h1v1h-1zM595 628h1v1h-1z"/>
<path d="M618 628h2v2h-2zM619 627h1v1h-1zM620 628h1v1h-1z"/>
<path d="M668 628h2v2h-2zM669 627h1v1h-1zM670 628h1v1h-1z"/>
<path d="M693 628h2v2h-2zM694 627h1v1h-1zM695 628h1v1h-1z"/>
<path d="M718 628h2v2h-2zM719 627h1v1h-1zM720 628h1v1h-1z"/>
<path d="M743 628h2v2h-2zM744 627h1v1h-1zM745 628h1v1h-1z"/>
<path d="M793 628h2v2h-2zM794 627h1v1h-1zM795 628h1v1h-1z"/>
<path d="M818 628h2v2h-2zM819 627h1v1h-1zM820 628h1v1h-1z"/>
<path d="M843 628h2v2h-2zM844 627h1v1h-1zM845 628h1v1h-1z"/>
<path d="M868 628h2v2h-2zM869 627h1v1h-1zM870 628h1v1h-1z"/>
<path d="M918 628h2v2h-2zM919 627h1v1h-1zM920 628h1v1h-1z"/>
<path d="M943 628h2v2h-2zM944 627h1v1h-1zM945 628h1v1h-1z"/>
<path d="M968 628h2v2h-2zM969 627h1v1h-1zM970 628h1v1h-1z"/>
<path d="M993 628h2v2h-2zM994 627h1v1h-1zM995 628h1v1h-1z"/>
<path d="M1043 628h2v2h-2zM1044 627h1v1h-1zM1045 628h1v1h-1z"/>
<path d="M1068 628h2v2h-2zM1069 627h1v1h-1zM1070 628h1v1h-1z"/>
<path d="M1093 628h2v2h-2zM1094 627h1v1h-1zM1095 628h1v1h-1z"/>
<path d="M1118 628h2v2h-2zM1119 627h1v1h-1zM1120 628h1v1h-1z"/>
<path d="M1168 628h2v2h-2zM1169 627h1v1h-1zM1170 628h1v1h-1z"/>
<path d="M1193 628h2v2h-2zM1194 627h1v1h-1zM1195 628h1v1h-1z"/>
<path d="M1218 628h2v2h-2zM1219 627h1v1h-1zM1220 628h1v1h-1z"/>
<path d="M1243 628h2v2h-2zM1244 627h1v1h-1zM1245 628h1v1h-1z"/>
<path d="M42 753h2v2h-2zM43 752h1v1h-1zM44 753h1v1h-1z"/>
<path d="M67 753h2v2h-2zM68 752h1v1h-1zM69 753h1v1h-1z"/>
<path d="M92 753h2v2h-2zM93 752h1v1h-1zM94 753h1v1h-1z"/>
<path d="M117 753h2v2h-2zM118 752h1v1h-1zM119 753h1v1h-1z"/>
<path d="M168 753h2v2h-2zM169 752h1v1h-1zM170 753h1v1h-1z"/>
<path d="M193 753h2v2h-2zM194 752h1v1h-1zM195 753h1v1h-1z"/>
<path d="M218 753h2v2h-2zM219 752h1v1h-1zM220 753h1v1h-1z"/>
<path d="M243 753h2v2h-2zM244 752h1v1h-1zM245 753h1v1h-1z"/>
<path d="M293 753h2v2h-2zM294 752h1v1h-1zM295 753h1v1h-1z"/>
<path d="M318 753h2v2h-2zM319 752h1v1h-1zM320 753h1v1h-1z"/>
<path d="M343 753h2v2h-2zM344 752h1v1h-1zM345 753h1v1h-1z"/>
<path d="M368 753h2v2h-2zM369 752h1v1h-1zM370 753h1v1h-1z"/>
<path d="M418 753h2v2h-2zM419 752h1v1h-1zM420 753h1v1h-1z"/>
<path d="M443 753h2v2h-2zM444 752h1v1h-1zM445 753h1v1h-1z"/>
<path d="M468 753h2v2h-2zM469 752h1v1h-1zM470 753h1v1h-1z"/>
<path d="M493 753h2v2h-2zM494 752h1v1h-1zM495 753h1v1h-1z"/>
<path d="M543 753h2v2h-2zM544 752h1v1h-1zM545 753h1v1h-1z"/>
<path d="M568 753h2v2h-2zM569 752h1v1h-1zM570 753h1v1h-1z"/>
<path d="M593 753h2v2h-2zM594 752h1v1h-1zM595 753h1v1h-1z"/>
<path d="M618 753h2v2h-2zM619 752h1v1h-1zM620 753h1v1h-1z"/>
<path d="M668 753h2v2h-2zM669 752h1v1h-1zM670 753h1v1h-1z"/>
<path d="M693 753h2v2h-2zM694 752h1v1h-1zM695 753h1v1h-1z"/>
<path d="M718 753h2v2h-2zM719 752h1v1h-1zM720 753h1v1h-1z"/>
<path d="M743 753h2v2h-2zM744 752h1v1h-1zM745 753h1v1h-1z"/>
<path d="M793 753h2v2h-2zM794 752h1v1h-1zM795 753h1v1h-1z"/>
<path d="M818 753h2v2h-2zM819 752h1v1h-1zM820 753h1v1h-1z"/>
<path d="M843 753h2v2h-2zM844 752h1v1h-1zM845 753h1v1h-1z"/>
<path d="M868 753h2v2h-2zM869 752h1v1h-1zM870 753h1v1h-1z"/>
<path d="M918 753h2v2h-2zM919 752h1v1h-1zM920 753h1v1h-1z"/>
<path d="M943 753h2v2h-2zM944 752h1v1h-1zM945 753h1v1h-1z"/>
<path d="M968 753h2v2h-2zM969 752h1v1h-1zM970 753h1v1h-1z"/>
<path d="M993 753h2v2h-2zM994 752h1v1h-1zM995 753h1v1h-1z"/>
<path d="M1043 753h2v2h-2zM1044 752h1v1h-1zM1045 753h1v1h-1z"/>
<path d="M1068 753h2v2h-2zM1069 752h1v1h-1zM1070 753h1v1h-1z"/>
<path d="M1093 753h2v2h-2zM1094 752h1v1h-1zM1095 753h1v1h-1z"/>
<path d="M1118 753h2v2h-2zM1119 752h1v1h-1zM1120 753h1v1h-1z"/>
<path d="M1168 753h2v2h-2zM1169 752h1v1h-1zM1170 753h1v1h-1z"/>
<path d="M1193 753h2v2h-2zM1194 752h1v1h-1zM1195 753h1v1h-1z"/>
<path d="M1218 753h2v2h-2zM1219 752h1v1h-1zM1220 753h1v1h-1z"/>
<path d="M1243 753h2v2h-2zM1244 752h1v1h-1zM1245 753h1v1h-1z"/>
<path d="M42 878h2v2h-2zM43 877h1v1h-1zM44 878h1v1h-1z"/>
<path d="M67 878h2v2h-2zM68 877h1v1h-1zM69 878h1v1h-1z"/>
<path d="M92 878h2v2h-2zM93 877h1v1h-1zM94 878h1v1h-1z"/>
<path d="M117 878h2v2h-2zM118 877h1v1h-1zM119 878h1v1h-1z"/>
<path d="M168 878h2v2h-2zM169 877h1v1h-1zM170 878h1v1h-1z"/>
<path d="M193 878h2v2h-2zM194 877h1v1h-1zM195 878h1v1h-1z"/>
<path d="M218 878h2v2h-2zM219 877h1v1h-1zM220 878h1v1h-1z"/>
<path d="M243 878h2v2h-2zM244 877h1v1h-1zM245 878h1v1h-1z"/>
<path d="M293 878h2v2h-2zM294 877h1v1h-1zM295 878h1v1h-1z"/>
<path d="M318 878h2v2h-2zM319 877h1v1h-1zM320 878h1v1h-1z"/>
<path d="M343 878h2v2h-2zM344 877h1v1h-1zM345 878h1v1h-1z"/>
<path d="M368 878h2v2h-2zM369 877h1v1h-1zM370 878h1v1h-1z"/>
<path d="M418 878h2v2h-2zM419 877h1v1h-1zM420 878h1v1h-1z"/>
<path d="M443 878h2v2h-2zM444 877h1v1h-1zM445 878h1v1h-1z"/>
<path d="M468 878h2v2h-2zM469 877h1v1h-1zM470 878h1v1h-1z"/>
<path d="M493 878h2v2h-2zM494 877h1v1h-1zM495 878h1v1h-1z"/>
<path d="M543 878h2v2h-2zM544 877h1v1h-1zM545 878h1v1h-1z"/>
<path d="M568 878h2v2h-2zM569 877h1v1h-1zM570 878h1v1h-1z"/>
<path d="M593 878h2v2h-2zM594 877h1v1h-1zM595 878h1v1h-1z"/>
<path d="M618 878h2v2h-2zM619 877h1v1h-1zM620 878h1v1h-1z"/>
<path d="M668 878h2v2h-2zM669 877h1v1h-1zM670 878h1v1h-1z"/>
<path d="M693 878h2v2h-2zM694 877h1v1h-1zM695 878h1v1h-1z"/>
<path d="M718 878h2v2h-2zM719 877h1v1h-1zM720 878h1v1h-1z"/>
<path d="M743 878h2v2h-2zM744 877h1v1h-1zM745 878h1v1h-1z"/>
<path d="M793 878h2v2h-2zM794 877h1v1h-1zM795 878h1v1h-1z"/>
<path d="M818 878h2v2h-2zM819 877h1v1h-1zM820 878h1v1h-1z"/>
<path d="M843 878h2v2h-2zM844 877h1v1h-1zM845 878h1v1h-1z"/>
<path d="M868 878h2v2h-2zM869 877h1v1h-1zM870 878h1v1h-1z"/>
<path d="M918 878h2v2h-2zM919 877h1v1h-1zM920 878h1v1h-1z"/>
<path d="M943 878h2v2h-2zM944 877h1v1h-1zM945 878h1v1h-1z"/>
<path d="M968 878h2v2h-2zM969 877h1v1h-1zM970 878h1v1h-1z"/>
<path d="M993 878h2v2h-2zM994 877h1v1h-1zM995 878h1v1h-1z"/>
<path d="M1043 878h2v2h-2zM1044 877h1v1h-1zM1045 878h1v1h-1z"/>
<path d="M1068 878h2v2h-2zM1069 877h1v1h-1zM1070 878h1v1h-1z"/>
<path d="M1093 878h2v2h-2zM1094 877h1v1h-1zM1095 878h1v1h-1z"/>
<path d="M1118 878h2v2h-2zM1119 877h1v1h-1zM1120 878h1v1h-1z"/>
<path d="M1168 878h2v2h-2zM1169 877h1v1h-1zM1170 878h1v1h-1z"/>
<path d="M1193 878h2v2h-2zM1194 877h1v1h-1zM1195 878h1v1h-1z"/>
<path d="M1218 878h2v2h-2zM1219 877h1v1h-1zM1220 878h1v1h-1z"/>
<path d="M1243 878h2v2h-2zM1244 877h1v1h-1zM1245 878h1v1h-1z"/>
</g>
<rect x="642.35" y="5" width="3.6" height="997" fill="#c2c2c2"/>
<rect x="20" y="502.2" width="1248" height="2.6" fill="#c2c2c2"/>
<g fill="#b9b9b9">
<rect x="633.15" y="27.25" width="22" height="2.5"/>
<rect x="633.15" y="52.25" width="22" height="2.5"/>
<rect x="633.15" y="77.25" width="22" height="2.5"/>
<rect x="633.15" y="102.25" width="22" height="2.5"/>
<rect x="625.15" y="127.25" width="38" height="2.5"/>
<rect x="633.15" y="152.25" width="22" height="2.5"/>
<rect x="633.15" y="177.25" width="22" height="2.5"/>
<rect x="633.15" y="202.25" width="22" height="2.5"/>
<rect x="633.15" y="227.25" width="22" height="2.5"/>
<rect x="625.15" y="252.25" width="38" height="2.5"/>
<rect x="633.15" y="277.25" width="22" height="2.5"/>
<rect x="633.15" y="302.25" width="22" height="2.5"/>
<rect x="633.15" y="327.25" width="22" height="2.5"/>
<rect x="633.15" y="352.25" width="22" height="2.5"/>
<rect x="625.15" y="377.25" width="38" height="2.5"/>
<rect x="633.15" y="402.25" width="22" height="2.5"/>
<rect x="633.15" y="427.25" width="22" height="2.5"/>
<rect x="633.15" y="452.25" width="22" height="2.5"/>
<rect x="633.15" y="477.25" width="22" height="2.5"/>
<rect x="633.15" y="527.25" width="22" height="2.5"/>
<rect x="633.15" y="552.25" width="22" height="2.5"/>
<rect x="633.15" y="577.25" width="22" height="2.5"/>
<rect x="633.15" y="602.25" width="22" height="2.5"/>
<rect x="625.15" y="627.25" width="38" height="2.5"/>
<rect x="633.15" y="652.25" width="22" height="2.5"/>
<rect x="633.15" y="677.25" width="22" height="2.5"/>
<rect x="633.15" y="702.25" width="22" height="2.5"/>
<rect x="633.15" y="727.25" width="22" height="2.5"/>
<rect x="625.15" y="752.25" width="38" height="2.5"/>
<rect x="633.15" y="777.25" width="22" height="2.5"/>
<rect x="633.15" y="802.25" width="22" height="2.5"/>
<rect x="633.15" y="827.25" width="22" height="2.5"/>
<rect x="633.15" y="852.25" width="22" height="2.5"/>
<rect x="625.15" y="877.25" width="38" height="2.5"/>
<rect x="633.15" y="902.25" width="22" height="2.5"/>
<rect x="633.15" y="927.25" width="22" height="2.5"/>
<rect x="633.15" y="952.25" width="22" height="2.5"/>
<rect x="633.15" y="977.25" width="22" height="2.5"/>
<rect x="41.67" y="492.2" width="3.5" height="22.6"/>
<rect x="66.69" y="492.2" width="3.5" height="22.6"/>
<rect x="91.71" y="492.2" width="3.5" height="22.6"/>
<rect x="116.73" y="492.2" width="3.5" height="22.6"/>
<rect x="141.75" y="484.9" width="3.5" height="37.2"/>
<rect x="166.77" y="492.2" width="3.5" height="22.6"/>
<rect x="191.79" y="492.2" width="3.5" height="22.6"/>
<rect x="216.81" y="492.2" width="3.5" height="22.6"/>
<rect x="241.83" y="492.2" width="3.5" height="22.6"/>
<rect x="266.85" y="484.9" width="3.5" height="37.2"/>
<rect x="291.87" y="492.2" width="3.5" height="22.6"/>
<rect x="316.89" y="492.2" width="3.5" height="22.6"/>
<rect x="341.91" y="492.2" width="3.5" height="22.6"/>
<rect x="366.93" y="492.2" width="3.5" height="22.6"/>
<rect x="391.95" y="484.9" width="3.5" height="37.2"/>
<rect x="416.97" y="492.2" width="3.5" height="22.6"/>
<rect x="441.99" y="492.2" width="3.5" height="22.6"/>
<rect x="467.01" y="492.2" width="3.5" height="22.6"/>
<rect x="492.03" y="492.2" width="3.5" height="22.6"/>
<rect x="517.05" y="484.9" width="3.5" height="37.2"/>
<rect x="542.07" y="492.2" width="3.5" height="22.6"/>
<rect x="567.09" y="492.2" width="3.5" height="22.6"/>
<rect x="592.11" y="492.2" width="3.5" height="22.6"/>
<rect x="617.13" y="492.2" width="3.5" height="22.6"/>
<rect x="667.17" y="492.2" width="3.5" height="22.6"/>
<rect x="692.19" y="492.2" width="3.5" height="22.6"/>
<rect x="717.21" y="492.2" width="3.5" height="22.6"/>
<rect x="742.23" y="492.2" width="3.5" height="22.6"/>
<rect x="767.25" y="484.9" width="3.5" height="37.2"/>
<rect x="792.27" y="492.2" width="3.5" height="22.6"/>
<rect x="817.29" y="492.2" width="3.5" height="22.6"/>
<rect x="842.31" y="492.2" width="3.5" height="22.6"/>
<rect x="867.33" y="492.2" width="3.5" height="22.6"/>
<rect x="892.35" y="484.9" width="3.5" height="37.2"/>
<rect x="917.37" y="492.2" width="3.5" height="22.6"/>
<rect x="942.39" y="492.2" width="3.5" height="22.6"/>
<rect x="967.41" y="492.2" width="3.5" height="22.6"/>
<rect x="992.43" y="492.2" width="3.5" height="22.6"/>
<rect x="1017.45" y="484.9" width="3.5" height="37.2"/>
<rect x="1042.47" y="492.2" width="3.5" height="22.6"/>
<rect x="1067.49" y="492.2" width="3.5" height="22.6"/>
<rect x="1092.51" y="492.2" width="3.5" height="22.6"/>
<rect x="1117.53" y="492.2" width="3.5" height="22.6"/>
<rect x="1142.55" y="484.9" width="3.5" height="37.2"/>
<rect x="1167.57" y="492.2" width="3.5" height="22.6"/>
<rect x="1192.59" y="492.2" width="3.5" height="22.6"/>
<rect x="1217.61" y="492.2" width="3.5" height="22.6"/>
<rect x="1242.63" y="492.2" width="3.5" height="22.6"/>
</g>
<g fill="#a9a9a9">
<rect x="21.97" y="501.1" width="1.2" height="1.2"/>
<rect x="26.14" y="504.7" width="1.2" height="1.2"/>
<rect x="30.31" y="501.1" width="1.2" height="1.2"/>
<rect x="34.48" y="504.7" width="1.2" height="1.2"/>
<rect x="38.65" y="501.1" width="1.2" height="1.2"/>
<rect x="46.99" y="501.1" width="1.2" height="1.2"/>
<rect x="51.16" y="504.7" width="1.2" height="1.2"/>
<rect x="55.33" y="501.1" width="1.2" height="1.2"/>
<rect x="59.5" y="504.7" width="1.2" height="1.2"/>
<rect x="63.67" y="501.1" width="1.2" height="1.2"/>
<rect x="72.01" y="501.1" width="1.2" height="1.2"/>
<rect x="76.18" y="504.7" width="1.2" height="1.2"/>
<rect x="80.35" y="501.1" width="1.2" height="1.2"/>
<rect x="84.52" y="504.7" width="1.2" height="1.2"/>
<rect x="88.69" y="501.1" width="1.2" height="1.2"/>
<rect x="97.03" y="501.1" width="1.2" height="1.2"/>
<rect x="101.2" y="504.7" width="1.2" height="1.2"/>
<rect x="105.37" y="501.1" width="1.2" height="1.2"/>
<rect x="109.54" y="504.7" width="1.2" height="1.2"/>
<rect x="113.71" y="501.1" width="1.2" height="1.2"/>
<rect x="122.05" y="501.1" width="1.2" height="1.2"/>
<rect x="126.22" y="504.7" width="1.2" height="1.2"/>
<rect x="130.39" y="501.1" width="1.2" height="1.2"/>
<rect x="134.56" y="504.7" width="1.2" height="1.2"/>
<rect x="138.73" y="501.1" width="1.2" height="1.2"/>
<rect x="147.07" y="501.1" width="1.2" height="1.2"/>
<rect x="151.24" y="504.7" width="1.2" height="1.2"/>
<rect x="155.41" y="501.1" width="1.2" height="1.2"/>
<rect x="159.58" y="504.7" width="1.2" height="1.2"/>
<rect x="163.75" y="501.1" width="1.2" height="1.2"/>
<rect x="172.09" y="501.1" width="1.2" height="1.2"/>
<rect x="176.26" y="504.7" width="1.2" height="1.2"/>
<rect x="180.43" y="501.1" width="1.2" height="1.2"/>
<rect x="184.6" y="504.7" width="1.2" height="1.2"/>
<rect x="188.77" y="501.1" width="1.2" height="1.2"/>
<rect x="197.11" y="501.1" width="1.2" height="1.2"/>
<rect x="201.28" y="504.7" width="1.2" height="1.2"/>
<rect x="205.45" y="501.1" width="1.2" height="1.2"/>
<rect x="209.62" y="504.7" width="1.2" height="1.2"/>
<rect x="213.79" y="501.1" width="1.2" height="1.2"/>
<rect x="222.13" y="501.1" width="1.2" height="1.2"/>
<rect x="226.3" y="504.7" width="1.2" height="1.2"/>
<rect x="230.47" y="501.1" width="1.2" height="1.2"/>
<rect x="234.64" y="504.7" width="1.2" height="1.2"/>
<rect x="238.81" y="501.1" width="1.2" height="1.2"/>
<rect x="247.15" y="501.1" width="1.2" height="1.2"/>
<rect x="251.32" y="504.7" width="1.2" height="1.2"/>
<rect x="255.49" y="501.1" width="1.2" height="1.2"/>
<rect x="259.66" y="504.7" width="1.2" height="1.2"/>
<rect x="263.83" y="501.1" width="1.2" height="1.2"/>
<rect x="272.17" y="501.1" width="1.2" height="1.2"/>
<rect x="276.34" y="504.7" width="1.2" height="1.2"/>
<rect x="280.51" y="501.1" width="1.2" height="1.2"/>
<rect x="284.68" y="504.7" width="1.2" height="1.2"/>
<rect x="288.85" y="501.1" width="1.2" height="1.2"/>
<rect x="297.19" y="501.1" width="1.2" height="1.2"/>
<rect x="301.36" y="504.7" width="1.2" height="1.2"/>
<rect x="305.53" y="501.1" width="1.2" height="1.2"/>
<rect x="309.7" y="504.7" width="1.2" height="1.2"/>
<rect x="313.87" y="501.1" width="1.2" height="1.2"/>
<rect x="322.21" y="501.1" width="1.2" height="1.2"/>
<rect x="326.38" y="504.7" width="1.2" height="1.2"/>
<rect x="330.55" y="501.1" width="1.2" height="1.2"/>
<rect x="334.72" y="504.7" width="1.2" height="1.2"/>
<rect x="338.89" y="501.1" width="1.2" height="1.2"/>
<rect x="347.23" y="501.1" width="1.2" height="1.2"/>
<rect x="351.4" y="504.7" width="1.2" height="1.2"/>
<rect x="355.57" y="501.1" width="1.2" height="1.2"/>
<rect x="359.74" y="504.7" width="1.2" height="1.2"/>
<rect x="363.91" y="501.1" width="1.2" height="1.2"/>
<rect x="372.25" y="501.1" width="1.2" height="1.2"/>
<rect x="376.42" y="504.7" width="1.2" height="1.2"/>
<rect x="380.59" y="501.1" width="1.2" height="1.2"/>
<rect x="384.76" y="504.7" width="1.2" height="1.2"/>
<rect x="388.93" y="501.1" width="1.2" height="1.2"/>
<rect x="397.27" y="501.1" width="1.2" height="1.2"/>
<rect x="401.44" y="504.7" width="1.2" height="1.2"/>
<rect x="405.61" y="501.1" width="1.2" height="1.2"/>
<rect x="409.78" y="504.7" width="1.2" height="1.2"/>
<rect x="413.95" y="501.1" width="1.2" height="1.2"/>
<rect x="422.29" y="501.1" width="1.2" height="1.2"/>
<rect x="426.46" y="504.7" width="1.2" height="1.2"/>
<rect x="430.63" y="501.1" width="1.2" height="1.2"/>
<rect x="434.8" y="504.7" width="1.2" height="1.2"/>
<rect x="438.97" y="501.1" width="1.2" height="1.2"/>
<rect x="447.31" y="501.1" width="1.2" height="1.2"/>
<rect x="451.48" y="504.7" width="1.2" height="1.2"/>
<rect x="455.65" y="501.1" width="1.2" height="1.2"/>
<rect x="459.82" y="504.7" width="1.2" height="1.2"/>
<rect x="463.99" y="501.1" width="1.2" height="1.2"/>
<rect x="472.33" y="501.1" width="1.2" height="1.2"/>
<rect x="476.5" y="504.7" width="1.2" height="1.2"/>
<rect x="480.67" y="501.1" width="1.2" height="1.2"/>
<rect x="484.84" y="504.7" width="1.2" height="1.2"/>
<rect x="489.01" y="501.1" width="1.2" height="1.2"/>
<rect x="497.35" y="501.1" width="1.2" height="1.2"/>
<rect x="501.52" y="504.7" width="1.2" height="1.2"/>
<rect x="505.69" y="501.1" width="1.2" height="1.2"/>
<rect x="509.86" y="504.7" width="1.2" height="1.2"/>
<rect x="514.03" y="501.1" width="1.2" height="1.2"/>
<rect x="522.37" y="501.1" width="1.2" height="1.2"/>
<rect x="526.54" y="504.7" width="1.2" height="1.2"/>
<rect x="530.71" y="501.1" width="1.2" height="1.2"/>
<rect x="534.88" y="504.7" width="1.2" height="1.2"/>
<rect x="539.05" y="501.1" width="1.2" height="1.2"/>
<rect x="547.39" y="501.1" width="1.2" height="1.2"/>
<rect x="551.56" y="504.7" width="1.2" height="1.2"/>
<rect x="555.73" y="501.1" width="1.2" height="1.2"/>
<rect x="559.9" y="504.7" width="1.2" height="1.2"/>
<rect x="564.07" y="501.1" width="1.2" height="1.2"/>
<rect x="572.41" y="501.1" width="1.2" height="1.2"/>
<rect x="576.58" y="504.7" width="1.2" height="1.2"/>
<rect x="580.75" y="501.1" width="1.2" height="1.2"/>
<rect x="584.92" y="504.7" width="1.2" height="1.2"/>
<rect x="589.09" y="501.1" width="1.2" height="1.2"/>
<rect x="597.43" y="501.1" width="1.2" height="1.2"/>
<rect x="601.6" y="504.7" width="1.2" height="1.2"/>
<rect x="605.77" y="501.1" width="1.2" height="1.2"/>
<rect x="609.94" y="504.7" width="1.2" height="1.2"/>
<rect x="614.11" y="501.1" width="1.2" height="1.2"/>
<rect x="622.45" y="501.1" width="1.2" height="1.2"/>
<rect x="626.62" y="504.7" width="1.2" height="1.2"/>
<rect x="630.79" y="501.1" width="1.2" height="1.2"/>
<rect x="634.96" y="504.7" width="1.2" height="1.2"/>
<rect x="639.13" y="501.1" width="1.2" height="1.2"/>
<rect x="647.47" y="501.1" width="1.2" height="1.2"/>
<rect x="651.64" y="504.7" width="1.2" height="1.2"/>
<rect x="655.81" y="501.1" width="1.2" height="1.2"/>
<rect x="659.98" y="504.7" width="1.2" height="1.2"/>
<rect x="664.15" y="501.1" width="1.2" height="1.2"/>
<rect x="672.49" y="501.1" width="1.2" height="1.2"/>
<rect x="676.66" y="504.7" width="1.2" height="1.2"/>
<rect x="680.83" y="501.1" width="1.2" height="1.2"/>
<rect x="685" y="504.7" width="1.2" height="1.2"/>
<rect x="689.17" y="501.1" width="1.2" height="1.2"/>
<rect x="697.51" y="501.1" width="1.2" height="1.2"/>
<rect x="701.68" y="504.7" width="1.2" height="1.2"/>
<rect x="705.85" y="501.1" width="1.2" height="1.2"/>
<rect x="710.02" y="504.7" width="1.2" height="1.2"/>
<rect x="714.19" y="501.1" width="1.2" height="1.2"/>
<rect x="722.53" y="501.1" width="1.2" height="1.2"/>
<rect x="726.7" y="504.7" width="1.2" height="1.2"/>
<rect x="730.87" y="501.1" width="1.2" height="1.2"/>
<rect x="735.04" y="504.7" width="1.2" height="1.2"/>
<rect x="739.21" y="501.1" width="1.2" height="1.2"/>
<rect x="747.55" y="501.1" width="1.2" height="1.2"/>
<rect x="751.72" y="504.7" width="1.2" height="1.2"/>
<rect x="755.89" y="501.1" width="1.2" height="1.2"/>
<rect x="760.06" y="504.7" width="1.2" height="1.2"/>
<rect x="764.23" y="501.1" width="1.2" height="1.2"/>
<rect x="772.57" y="501.1" width="1.2" height="1.2"/>
<rect x="776.74" y="504.7" width="1.2" height="1.2"/>
<rect x="780.91" y="501.1" width="1.2" height="1.2"/>
<rect x="785.08" y="504.7" width="1.2" height="1.2"/>
<rect x="789.25" y="501.1" width="1.2" height="1.2"/>
<rect x="797.59" y="501.1" width="1.2" height="1.2"/>
<rect x="801.76" y="504.7" width="1.2" height="1.2"/>
<rect x="805.93" y="501.1" width="1.2" height="1.2"/>
<rect x="810.1" y="504.7" width="1.2" height="1.2"/>
<rect x="814.27" y="501.1" width="1.2" height="1.2"/>
<rect x="822.61" y="501.1" width="1.2" height="1.2"/>
<rect x="826.78" y="504.7" width="1.2" height="1.2"/>
<rect x="830.95" y="501.1" width="1.2" height="1.2"/>
<rect x="835.12" y="504.7" width="1.2" height="1.2"/>
<rect x="839.29" y="501.1" width="1.2" height="1.2"/>
<rect x="847.63" y="501.1" width="1.2" height="1.2"/>
<rect x="851.8" y="504.7" width="1.2" height="1.2"/>
<rect x="855.97" y="501.1" width="1.2" height="1.2"/>
<rect x="860.14" y="504.7" width="1.2" height="1.2"/>
<rect x="864.31" y="501.1" width="1.2" height="1.2"/>
<rect x="872.65" y="501.1" width="1.2" height="1.2"/>
<rect x="876.82" y="504.7" width="1.2" height="1.2"/>
<rect x="880.99" y="501.1" width="1.2" height="1.2"/>
<rect x="885.16" y="504.7" width="1.2" height="1.2"/>
<rect x="889.33" y="501.1" width="1.2" height="1.2"/>
<rect x="897.67" y="501.1" width="1.2" height="1.2"/>
<rect x="901.84" y="504.7" width="1.2" height="1.2"/>
<rect x="906.01" y="501.1" width="1.2" height="1.2"/>
<rect x="910.18" y="504.7" width="1.2" height="1.2"/>
<rect x="914.35" y="501.1" width="1.2" height="1.2"/>
<rect x="922.69" y="501.1" width="1.2" height="1.2"/>
<rect x="926.86" y="504.7" width="1.2" height="1.2"/>
<rect x="931.03" y="501.1" width="1.2" height="1.2"/>
<rect x="935.2" y="504.7" width="1.2" height="1.2"/>
<rect x="939.37" y="501.1" width="1.2" height="1.2"/>
<rect x="947.71" y="501.1" width="1.2" height="1.2"/>
<rect x="951.88" y="504.7" width="1.2" height="1.2"/>
<rect x="956.05" y="501.1" width="1.2" height="1.2"/>
<rect x="960.22" y="504.7" width="1.2" height="1.2"/>
<rect x="964.39" y="501.1" width="1.2" height="1.2"/>
<rect x="972.73" y="501.1" width="1.2" height="1.2"/>
<rect x="976.9" y="504.7" width="1.2" height="1.2"/>
<rect x="981.07" y="501.1" width="1.2" height="1.2"/>
<rect x="985.24" y="504.7" width="1.2" height="1.2"/>
<rect x="989.41" y="501.1" width="1.2" height="1.2"/>
<rect x="997.75" y="501.1" width="1.2" height="1.2"/>
<rect x="1001.92" y="504.7" width="1.2" height="1.2"/>
<rect x="1006.09" y="501.1" width="1.2" height="1.2"/>
<rect x="1010.26" y="504.7" width="1.2" height="1.2"/>
<rect x="1014.43" y="501.1" width="1.2" height="1.2"/>
<rect x="1022.77" y="501.1" width="1.2" height="1.2"/>
<rect x="1026.94" y="504.7" width="1.2" height="1.2"/>
<rect x="1031.11" y="501.1" width="1.2" height="1.2"/>
<rect x="1035.28" y="504.7" width="1.2" height="1.2"/>
<rect x="1039.45" y="501.1" width="1.2" height="1.2"/>
<rect x="1047.79" y="501.1" width="1.2" height="1.2"/>
<rect x="1051.96" y="504.7" width="1.2" height="1.2"/>
<rect x="1056.13" y="501.1" width="1.2" height="1.2"/>
<rect x="1060.3" y="504.7" width="1.2" height="1.2"/>
<rect x="1064.47" y="501.1" width="1.2" height="1.2"/>
<rect x="1072.81" y="501.1" width="1.2" height="1.2"/>
<rect x="1076.98" y="504.7" width="1.2" height="1.2"/>
<rect x="1081.15" y="501.1" width="1.2" height="1.2"/>
<rect x="1085.32" y="504.7" width="1.2" height="1.2"/>
<rect x="1089.49" y="501.1" width="1.2" height="1.2"/>
<rect x="1097.83" y="501.1" width="1.2" height="1.2"/>
<rect x="1102" y="504.7" width="1.2" height="1.2"/>
<rect x="1106.17" y="501.1" width="1.2" height="1.2"/>
<rect x="1110.34" y="504.7" width="1.2" height="1.2"/>
<rect x="1114.51" y="501.1" width="1.2" height="1.2"/>
<rect x="1122.85" y="501.1" width="1.2" height="1.2"/>
<rect x="1127.02" y="504.7" width="1.2" height="1.2"/>
<rect x="1131.19" y="501.1" width="1.2" height="1.2"/>
<rect x="1135.36" y="504.7" width="1.2" height="1.2"/>
<rect x="1139.53" y="501.1" width="1.2" height="1.2"/>
<rect x="1147.87" y="501.1" width="1.2" height="1.2"/>
<rect x="1152.04" y="504.7" width="1.2" height="1.2"/>
<rect x="1156.21" y="501.1" width="1.2" height="1.2"/>
<rect x="1160.38" y="504.7" width="1.2" height="1.2"/>
<rect x="1164.55" y="501.1" width="1.2" height="1.2"/>
<rect x="1172.89" y="501.1" width="1.2" height="1.2"/>
<rect x="1177.06" y="504.7" width="1.2" height="1.2"/>
<rect x="1181.23" y="501.1" width="1.2" height="1.2"/>
<rect x="1185.4" y="504.7" width="1.2" height="1.2"/>
<rect x="1189.57" y="501.1" width="1.2" height="1.2"/>
<rect x="1197.91" y="501.1" width="1.2" height="1.2"/>
<rect x="1202.08" y="504.7" width="1.2" height="1.2"/>
<rect x="1206.25" y="501.1" width="1.2" height="1.2"/>
<rect x="1210.42" y="504.7" width="1.2" height="1.2"/>
<rect x="1214.59" y="501.1" width="1.2" height="1.2"/>
<rect x="1222.93" y="501.1" width="1.2" height="1.2"/>
<rect x="1227.1" y="504.7" width="1.2" height="1.2"/>
<rect x="1231.27" y="501.1" width="1.2" height="1.2"/>
<rect x="1235.44" y="504.7" width="1.2" height="1.2"/>
<rect x="1239.61" y="501.1" width="1.2" height="1.2"/>
<rect x="1247.95" y="501.1" width="1.2" height="1.2"/>
<rect x="1252.12" y="504.7" width="1.2" height="1.2"/>
<rect x="1256.29" y="501.1" width="1.2" height="1.2"/>
<rect x="1260.46" y="504.7" width="1.2" height="1.2"/>
<rect x="1264.63" y="501.1" width="1.2" height="1.2"/>
<rect x="643.55" y="7.07" width="1.2" height="1.2"/>
<rect x="643.55" y="11.23" width="1.2" height="1.2"/>
<rect x="643.55" y="15.4" width="1.2" height="1.2"/>
<rect x="643.55" y="19.57" width="1.2" height="1.2"/>
<rect x="643.55" y="23.73" width="1.2" height="1.2"/>
<rect x="643.55" y="32.07" width="1.2" height="1.2"/>
<rect x="643.55" y="36.23" width="1.2" height="1.2"/>
<rect x="643.55" y="40.4" width="1.2" height="1.2"/>
<rect x="643.55" y="44.57" width="1.2" height="1.2"/>
<rect x="643.55" y="48.73" width="1.2" height="1.2"/>
<rect x="643.55" y="57.07" width="1.2" height="1.2"/>
<rect x="643.55" y="61.23" width="1.2" height="1.2"/>
<rect x="643.55" y="65.4" width="1.2" height="1.2"/>
<rect x="643.55" y="69.57" width="1.2" height="1.2"/>
<rect x="643.55" y="73.73" width="1.2" height="1.2"/>
<rect x="643.55" y="82.07" width="1.2" height="1.2"/>
<rect x="643.55" y="86.23" width="1.2" height="1.2"/>
<rect x="643.55" y="90.4" width="1.2" height="1.2"/>
<rect x="643.55" y="94.57" width="1.2" height="1.2"/>
<rect x="643.55" y="98.73" width="1.2" height="1.2"/>
<rect x="643.55" y="107.07" width="1.2" height="1.2"/>
<rect x="643.55" y="111.23" width="1.2" height="1.2"/>
<rect x="643.55" y="115.4" width="1.2" height="1.2"/>
<rect x="643.55" y="119.57" width="1.2" height="1.2"/>
<rect x="643.55" y="123.73" width="1.2" height="1.2"/>
<rect x="643.55" y="132.07" width="1.2" height="1.2"/>
<rect x="643.55" y="136.23" width="1.2" height="1.2"/>
<rect x="643.55" y="140.4" width="1.2" height="1.2"/>
<rect x="643.55" y="144.57" width="1.2" height="1.2"/>
<rect x="643.55" y="148.73" width="1.2" height="1.2"/>
<rect x="643.55" y="157.07" width="1.2" height="1.2"/>
<rect x="643.55" y="161.23" width="1.2" height="1.2"/>
<rect x="643.55" y="165.4" width="1.2" height="1.2"/>
<rect x="643.55" y="169.57" width="1.2" height="1.2"/>
<rect x="643.55" y="173.73" width="1.2" height="1.2"/>
<rect x="643.55" y="182.07" width="1.2" height="1.2"/>
<rect x="643.55" y="186.23" width="1.2" height="1.2"/>
<rect x="643.55" y="190.4" width="1.2" height="1.2"/>
<rect x="643.55" y="194.57" width="1.2" height="1.2"/>
<rect x="643.55" y="198.73" width="1.2" height="1.2"/>
<rect x="643.55" y="207.07" width="1.2" height="1.2"/>
<rect x="643.55" y="211.23" width="1.2" height="1.2"/>
<rect x="643.55" y="215.4" width="1.2" height="1.2"/>
<rect x="643.55" y="219.57" width="1.2" height="1.2"/>
<rect x="643.55" y="223.73" width="1.2" height="1.2"/>
<rect x="643.55" y="232.07" width="1.2" height="1.2"/>
<rect x="643.55" y="236.23" width="1.2" height="1.2"/>
<rect x="643.55" y="240.4" width="1.2" height="1.2"/>
<rect x="643.55" y="244.57" width="1.2" height="1.2"/>
<rect x="643.55" y="248.73" width="1.2" height="1.2"/>
<rect x="643.55" y="257.07" width="1.2" height="1.2"/>
<rect x="643.55" y="261.23" width="1.2" height="1.2"/>
<rect x="643.55" y="265.4" width="1.2" height="1.2"/>
<rect x="643.55" y="269.57" width="1.2" height="1.2"/>
<rect x="643.55" y="273.73" width="1.2" height="1.2"/>
<rect x="643.55" y="282.07" width="1.2" height="1.2"/>
<rect x="643.55" y="286.23" width="1.2" height="1.2"/>
<rect x="643.55" y="290.4" width="1.2" height="1.2"/>
<rect x="643.55" y="294.57" width="1.2" height="1.2"/>
<rect x="643.55" y="298.73" width="1.2" height="1.2"/>
<rect x="643.55" y="307.07" width="1.2" height="1.2"/>
<rect x="643.55" y="311.23" width="1.2" height="1.2"/>
<rect x="643.55" y="315.4" width="1.2" height="1.2"/>
<rect x="643.55" y="319.57" width="1.2" height="1.2"/>
<rect x="643.55" y="323.73" width="1.2" height="1.2"/>
<rect x="643.55" y="332.07" width="1.2" height="1.2"/>
<rect x="643.55" y="336.23" width="1.2" height="1.2"/>
<rect x="643.55" y="340.4" width="1.2" height="1.2"/>
<rect x="643.55" y="344.57" width="1.2" height="1.2"/>
<rect x="643.55" y="348.73" width="1.2" height="1.2"/>
<rect x="643.55" y="357.07" width="1.2" height="1.2"/>
<rect x="643.55" y="361.23" width="1.2" height="1.2"/>
<rect x="643.55" y="365.4" width="1.2" height="1.2"/>
<rect x="643.55" y="369.57" width="1.2" height="1.2"/>
<rect x="643.55" y="373.73" width="1.2" height="1.2"/>
<rect x="643.55" y="382.07" width="1.2" height="1.2"/>
<rect x="643.55" y="386.23" width="1.2" height="1.2"/>
<rect x="643.55" y="390.4" width="1.2" height="1.2"/>
<rect x="643.55" y="394.57" width="1.2" height="1.2"/>
<rect x="643.55" y="398.73" width="1.2" height="1.2"/>
<rect x="643.55" y="407.07" width="1.2" height="1.2"/>
<rect x="643.55" y="411.23" width="1.2" height="1.2"/>
<rect x="643.55" y="415.4" width="1.2" height="1.2"/>
<rect x="643.55" y="419.57" width="1.2" height="1.2"/>
<rect x="643.55" y="423.73" width="1.2" height="1.2"/>
<rect x="643.55" y="432.07" width="1.2" height="1.2"/>
<rect x="643.55" y="436.23" width="1.2" height="1.2"/>
<rect x="643.55" y="440.4" width="1.2" height="1.2"/>
<rect x="643.55" y="444.57" width="1.2" height="1.2"/>
<rect x="643.55" y="448.73" width="1.2" height="1.2"/>
<rect x="643.55" y="457.07" width="1.2" height="1.2"/>
<rect x="643.55" y="461.23" width="1.2" height="1.2"/>
<rect x="643.55" y="465.4" width="1.2" height="1.2"/>
<rect x="643.55" y="469.57" width="1.2" height="1.2"/>
<rect x="643.55" y="473.73" width="1.2" height="1.2"/>
<rect x="643.55" y="482.07" width="1.2" height="1.2"/>
<rect x="643.55" y="486.23" width="1.2" height="1.2"/>
<rect x="643.55" y="490.4" width="1.2" height="1.2"/>
<rect x="643.55" y="494.57" width="1.2" height="1.2"/>
<rect x="643.55" y="498.73" width="1.2" height="1.2"/>
<rect x="643.55" y="507.07" width="1.2" height="1.2"/>
<rect x="643.55" y="511.23" width="1.2" height="1.2"/>
<rect x="643.55" y="515.4" width="1.2" height="1.2"/>
<rect x="643.55" y="519.57" width="1.2" height="1.2"/>
<rect x="643.55" y="523.73" width="1.2" height="1.2"/>
<rect x="643.55" y="532.07" width="1.2" height="1.2"/>
<rect x="643.55" y="536.23" width="1.2" height="1.2"/>
<rect x="643.55" y="540.4" width="1.2" height="1.2"/>
<rect x="643.55" y="544.57" width="1.2" height="1.2"/>
<rect x="643.55" y="548.73" width="1.2" height="1.2"/>
<rect x="643.55" y="557.07" width="1.2" height="1.2"/>
<rect x="643.55" y="561.23" width="1.2" height="1.2"/>
<rect x="643.55" y="565.4" width="1.2" height="1.2"/>
<rect x="643.55" y="569.57" width="1.2" height="1.2"/>
<rect x="643.55" y="573.73" width="1.2" height="1.2"/>
<rect x="643.55" y="582.07" width="1.2" height="1.2"/>
<rect x="643.55" y="586.23" width="1.2" height="1.2"/>
<rect x="643.55" y="590.4" width="1.2" height="1.2"/>
<rect x="643.55" y="594.57" width="1.2" height="1.2"/>
<rect x="643.55" y="598.73" width="1.2" height="1.2"/>
<rect x="643.55" y="607.07" width="1.2" height="1.2"/>
<rect x="643.55" y="611.23" width="1.2" height="1.2"/>
<rect x="643.55" y="615.4" width="1.2" height="1.2"/>
<rect x="643.55" y="619.57" width="1.2" height="1.2"/>
<rect x="643.55" y="623.73" width="1.2" height="1.2"/>
<rect x="643.55" y="632.07" width="1.2" height="1.2"/>
<rect x="643.55" y="636.23" width="1.2" height="1.2"/>
<rect x="643.55" y="640.4" width="1.2" height="1.2"/>
<rect x="643.55" y="644.57" width="1.2" height="1.2"/>
<rect x="643.55" y="648.73" width="1.2" height="1.2"/>
<rect x="643.55" y="657.07" width="1.2" height="1.2"/>
<rect x="643.55" y="661.23" width="1.2" height="1.2"/>
<rect x="643.55" y="665.4" width="1.2" height="1.2"/>
<rect x="643.55" y="669.57" width="1.2" height="1.2"/>
<rect x="643.55" y="673.73" width="1.2" height="1.2"/>
<rect x="643.55" y="682.07" width="1.2" height="1.2"/>
<rect x="643.55" y="686.23" width="1.2" height="1.2"/>
<rect x="643.55" y="690.4" width="1.2" height="1.2"/>
<rect x="643.55" y="694.57" width="1.2" height="1.2"/>
<rect x="643.55" y="698.73" width="1.2" height="1.2"/>
<rect x="643.55" y="707.07" width="1.2" height="1.2"/>
<rect x="643.55" y="711.23" width="1.2" height="1.2"/>
<rect x="643.55" y="715.4" width="1.2" height="1.2"/>
<rect x="643.55" y="719.57" width="1.2" height="1.2"/>
<rect x="643.55" y="723.73" width="1.2" height="1.2"/>
<rect x="643.55" y="732.07" width="1.2" height="1.2"/>
<rect x="643.55" y="736.23" width="1.2" height="1.2"/>
<rect x="643.55" y="740.4" width="1.2" height="1.2"/>
<rect x="643.55" y="744.57" width="1.2" height="1.2"/>
<rect x="643.55" y="748.73" width="1.2" height="1.2"/>
<rect x="643.55" y="757.07" width="1.2" height="1.2"/>
<rect x="643.55" y="761.23" width="1.2" height="1.2"/>
<rect x="643.55" y="765.4" width="1.2" height="1.2"/>
<rect x="643.55" y="769.57" width="1.2" height="1.2"/>
<rect x="643.55" y="773.73" width="1.2" height="1.2"/>
<rect x="643.55" y="782.07" width="1.2" height="1.2"/>
<rect x="643.55" y="786.23" width="1.2" height="1.2"/>
<rect x="643.55" y="790.4" width="1.2" height="1.2"/>
<rect x="643.55" y="794.57" width="1.2" height="1.2"/>
<rect x="643.55" y="798.73" width="1.2" height="1.2"/>
<rect x="643.55" y="807.07" width="1.2" height="1.2"/>
<rect x="643.55" y="811.23" width="1.2" height="1.2"/>
<rect x="643.55" y="815.4" width="1.2" height="1.2"/>
<rect x="643.55" y="819.57" width="1.2" height="1.2"/>
<rect x="643.55" y="823.73" width="1.2" height="1.2"/>
<rect x="643.55" y="832.07" width="1.2" height="1.2"/>
<rect x="643.55" y="836.23" width="1.2" height="1.2"/>
<rect x="643.55" y="840.4" width="1.2" height="1.2"/>
<rect x="643.55" y="844.57" width="1.2" height="1.2"/>
<rect x="643.55" y="848.73" width="1.2" height="1.2"/>
<rect x="643.55" y="857.07" width="1.2" height="1.2"/>
<rect x="643.55" y="861.23" width="1.2" height="1.2"/>
<rect x="643.55" y="865.4" width="1.2" height="1.2"/>
<rect x="643.55" y="869.57" width="1.2" height="1.2"/>
<rect x="643.55" y="873.73" width="1.2" height="1.2"/>
<rect x="643.55" y="882.07" width="1.2" height="1.2"/>
<rect x="643.55" y="886.23" width="1.2" height="1.2"/>
<rect x="643.55" y="890.4" width="1.2" height="1.2"/>
<rect x="643.55" y="894.57" width="1.2" height="1.2"/>
<rect x="643.55" y="898.73" width="1.2" height="1.2"/>
<rect x="643.55" y="907.07" width="1.2" height="1.2"/>
<rect x="643.55" y="911.23" width="1.2" height="1.2"/>
<rect x="643.55" y="915.4" width="1.2" height="1.2"/>
<rect x="643.55" y="919.57" width="1.2" height="1.2"/>
<rect x="643.55" y="923.73" width="1.2" height="1.2"/>
<rect x="643.55" y="932.07" width="1.2" height="1.2"/>
<rect x="643.55" y="936.23" width="1.2" height="1.2"/>
<rect x="643.55" y="940.4" width="1.2" height="1.2"/>
<rect x="643.55" y="944.57" width="1.2" height="1.2"/>
<rect x="643.55" y="948.73" width="1.2" height="1.2"/>
<rect x="643.55" y="957.07" width="1.2" height="1.2"/>
<rect x="643.55" y="961.23" width="1.2" height="1.2"/>
<rect x="643.55" y="965.4" width="1.2" height="1.2"/>
<rect x="643.55" y="969.57" width="1.2" height="1.2"/>
<rect x="643.55" y="973.73" width="1.2" height="1.2"/>
<rect x="643.55" y="982.07" width="1.2" height="1.2"/>
<rect x="643.55" y="986.23" width="1.2" height="1.2"/>
<rect x="643.55" y="990.4" width="1.2" height="1.2"/>
<rect x="643.55" y="994.57" width="1.2" height="1.2"/>
<rect x="643.55" y="998.73" width="1.2" height="1.2"/>
</g>
<g fill="#b9b9b9" shape-rendering="crispEdges">
<rect x="42" y="5" width="3" height="10"/>
<rect x="42" y="992" width="3" height="10"/>
<rect x="67" y="5" width="3" height="10"/>
<rect x="67" y="992" width="3" height="10"/>
<rect x="92" y="5" width="3" height="10"/>
<rect x="92" y="992" width="3" height="10"/>
<rect x="117" y="5" width="3" height="10"/>
<rect x="117" y="992" width="3" height="10"/>
<rect x="142" y="5" width="3" height="24"/>
<rect x="142" y="978" width="3" height="24"/>
<rect x="167" y="5" width="3" height="10"/>
<rect x="167" y="992" width="3" height="10"/>
<rect x="192" y="5" width="3" height="10"/>
<rect x="192" y="992" width="3" height="10"/>
<rect x="217" y="5" width="3" height="10"/>
<rect x="217" y="992" width="3" height="10"/>
<rect x="242" y="5" width="3" height="10"/>
<rect x="242" y="992" width="3" height="10"/>
<rect x="267" y="5" width="3" height="24"/>
<rect x="267" y="978" width="3" height="24"/>
<rect x="292" y="5" width="3" height="10"/>
<rect x="292" y="992" width="3" height="10"/>
<rect x="317" y="5" width="3" height="10"/>
<rect x="317" y="992" width="3" height="10"/>
<rect x="342" y="5" width="3" height="10"/>
<rect x="342" y="992" width="3" height="10"/>
<rect x="367" y="5" width="3" height="10"/>
<rect x="367" y="992" width="3" height="10"/>
<rect x="392" y="5" width="3" height="24"/>
<rect x="392" y="978" width="3" height="24"/>
<rect x="417" y="5" width="3" height="10"/>
<rect x="417" y="992" width="3" height="10"/>
<rect x="442" y="5" width="3" height="10"/>
<rect x="442" y="992" width="3" height="10"/>
<rect x="467" y="5" width="3" height="10"/>
<rect x="467" y="992" width="3" height="10"/>
<rect x="492" y="5" width="3" height="10"/>
<rect x="492" y="992" width="3" height="10"/>
<rect x="517" y="5" width="3" height="24"/>
<rect x="517" y="978" width="3" height="24"/>
<rect x="542" y="5" width="3" height="10"/>
<rect x="542" y="992" width="3" height="10"/>
<rect x="567" y="5" width="3" height="10"/>
<rect x="567" y="992" width="3" height="10"/>
<rect x="592" y="5" width="3" height="10"/>
<rect x="592" y="992" width="3" height="10"/>
<rect x="617" y="5" width="3" height="10"/>
<rect x="617" y="992" width="3" height="10"/>
<rect x="642" y="5" width="3" height="24"/>
<rect x="642" y="978" width="3" height="24"/>
<rect x="667" y="5" width="3" height="10"/>
<rect x="667" y="992" width="3" height="10"/>
<rect x="692" y="5" width="3" height="10"/>
<rect x="692" y="992" width="3" height="10"/>
<rect x="717" y="5" width="3" height="10"/>
<rect x="717" y="992" width="3" height="10"/>
<rect x="742" y="5" width="3" height="10"/>
<rect x="742" y="992" width="3" height="10"/>
<rect x="768" y="5" width="3" height="24"/>
<rect x="768" y="978" width="3" height="24"/>
<rect x="793" y="5" width="3" height="10"/>
<rect x="793" y="992" width="3" height="10"/>
<rect x="818" y="5" width="3" height="10"/>
<rect x="818" y="992" width="3" height="10"/>
<rect x="843" y="5" width="3" height="10"/>
<rect x="843" y="992" width="3" height="10"/>
<rect x="868" y="5" width="3" height="10"/>
<rect x="868" y="992" width="3" height="10"/>
<rect x="893" y="5" width="3" height="24"/>
<rect x="893" y="978" width="3" height="24"/>
<rect x="918" y="5" width="3" height="10"/>
<rect x="918" y="992" width="3" height="10"/>
<rect x="943" y="5" width="3" height="10"/>
<rect x="943" y="992" width="3" height="10"/>
<rect x="968" y="5" width="3" height="10"/>
<rect x="968" y="992" width="3" height="10"/>
<rect x="993" y="5" width="3" height="10"/>
<rect x="993" y="992" width="3" height="10"/>
<rect x="1018" y="5" width="3" height="24"/>
<rect x="1018" y="978" width="3" height="24"/>
<rect x="1043" y="5" width="3" height="10"/>
<rect x="1043" y="992" width="3" height="10"/>
<rect x="1068" y="5" width="3" height="10"/>
<rect x="1068" y="992" width="3" height="10"/>
<rect x="1093" y="5" width="3" height="10"/>
<rect x="1093" y="992" width="3" height="10"/>
<rect x="1118" y="5" width="3" height="10"/>
<rect x="1118" y="992" width="3" height="10"/>
<rect x="1143" y="5" width="3" height="24"/>
<rect x="1143" y="978" width="3" height="24"/>
<rect x="1168" y="5" width="3" height="10"/>
<rect x="1168" y="992" width="3" height="10"/>
<rect x="1193" y="5" width="3" height="10"/>
<rect x="1193" y="992" width="3" height="10"/>
<rect x="1218" y="5" width="3" height="10"/>
<rect x="1218" y="992" width="3" height="10"/>
<rect x="1243" y="5" width="3" height="10"/>
<rect x="1243" y="992" width="3" height="10"/>
<rect x="20" y="27" width="10" height="3"/>
<rect x="1258" y="27" width="10" height="3"/>
<rect x="20" y="52" width="10" height="3"/>
<rect x="1258" y="52" width="10" height="3"/>
<rect x="20" y="77" width="10" height="3"/>
<rect x="1258" y="77" width="10" height="3"/>
<rect x="20" y="102" width="10" height="3"/>
<rect x="1258" y="102" width="10" height="3"/>
<rect x="20" y="127" width="25" height="3"/>
<rect x="1243" y="127" width="25" height="3"/>
<rect x="20" y="152" width="10" height="3"/>
<rect x="1258" y="152" width="10" height="3"/>
<rect x="20" y="177" width="10" height="3"/>
<rect x="1258" y="177" width="10" height="3"/>
<rect x="20" y="202" width="10" height="3"/>
<rect x="1258" y="202" width="10" height="3"/>
<rect x="20" y="227" width="10" height="3"/>
<rect x="1258" y="227" width="10" height="3"/>
<rect x="20" y="252" width="25" height="3"/>
<rect x="1243" y="252" width="25" height="3"/>
<rect x="20" y="277" width="10" height="3"/>
<rect x="1258" y="277" width="10" height="3"/>
<rect x="20" y="302" width="10" height="3"/>
<rect x="1258" y="302" width="10" height="3"/>
<rect x="20" y="327" width="10" height="3"/>
<rect x="1258" y="327" width="10" height="3"/>
<rect x="20" y="352" width="10" height="3"/>
<rect x="1258" y="352" width="10" height="3"/>
<rect x="20" y="377" width="25" height="3"/>
<rect x="1243" y="377" width="25" height="3"/>
<rect x="20" y="402" width="10" height="3"/>
<rect x="1258" y="402" width="10" height="3"/>
<rect x="20" y="427" width="10" height="3"/>
<rect x="1258" y="427" width="10" height="3"/>
<rect x="20" y="452" width="10" height="3"/>
<rect x="1258" y="452" width="10" height="3"/>
<rect x="20" y="477" width="10" height="3"/>
<rect x="1258" y="477" width="10" height="3"/>
<rect x="20" y="502" width="25" height="3"/>
<rect x="1243" y="502" width="25" height="3"/>
<rect x="20" y="527" width="10" height="3"/>
<rect x="1258" y="527" width="10" height="3"/>
<rect x="20" y="552" width="10" height="3"/>
<rect x="1258" y="552" width="10" height="3"/>
<rect x="20" y="577" width="10" height="3"/>
<rect x="1258" y="577" width="10" height="3"/>
<rect x="20" y="602" width="10" height="3"/>
<rect x="1258" y="602" width="10" height="3"/>
<rect x="20" y="627" width="25" height="3"/>
<rect x="1243" y="627" width="25" height="3"/>
<rect x="20" y="652" width="10" height="3"/>
<rect x="1258" y="652" width="10" height="3"/>
<rect x="20" y="677" width="10" height="3"/>
<rect x="1258" y="677" width="10" height="3"/>
<rect x="20" y="702" width="10" height="3"/>
<rect x="1258" y="702" width="10" height="3"/>
<rect x="20" y="727" width="10" height="3"/>
<rect x="1258" y="727" width="10" height="3"/>
<rect x="20" y="752" width="25" height="3"/>
<rect x="1243" y="752" width="25" height="3"/>
<rect x="20" y="777" width="10" height="3"/>
<rect x="1258" y="777" width="10" height="3"/>
<rect x="20" y="802" width="10" height="3"/>
<rect x="1258" y="802" width="10" height="3"/>
<rect x="20" y="827" width="10" height="3"/>
<rect x="1258" y="827" width="10" height="3"/>
<rect x="20" y="852" width="10" height="3"/>
<rect x="1258" y="852" width="10" height="3"/>
<rect x="20" y="877" width="25" height="3"/>
<rect x="1243" y="877" width="25" height="3"/>
<rect x="20" y="902" width="10" height="3"/>
<rect x="1258" y="902" width="10" height="3"/>
<rect x="20" y="927" width="10" height="3"/>
<rect x="1258" y="927" width="10" height="3"/>
<rect x="20" y="952" width="10" height="3"/>
<rect x="1258" y="952" width="10" height="3"/>
<rect x="20" y="977" width="10" height="3"/>
<rect x="1258" y="977" width="10" height="3"/>
</g>
<g fill="#b9b9b9">
<rect x="26.04" y="1000.5" width="1.4" height="1.5"/>
<rect x="34.38" y="1000.5" width="1.4" height="1.5"/>
<rect x="51.06" y="1000.5" width="1.4" height="1.5"/>
<rect x="59.4" y="1000.5" width="1.4" height="1.5"/>
<rect x="76.08" y="1000.5" width="1.4" height="1.5"/>
<rect x="84.42" y="1000.5" width="1.4" height="1.5"/>
<rect x="101.1" y="1000.5" width="1.4" height="1.5"/>
<rect x="109.44" y="1000.5" width="1.4" height="1.5"/>
<rect x="126.12" y="1000.5" width="1.4" height="1.5"/>
<rect x="134.46" y="1000.5" width="1.4" height="1.5"/>
<rect x="151.14" y="1000.5" width="1.4" height="1.5"/>
<rect x="159.48" y="1000.5" width="1.4" height="1.5"/>
<rect x="176.16" y="1000.5" width="1.4" height="1.5"/>
<rect x="184.5" y="1000.5" width="1.4" height="1.5"/>
<rect x="201.18" y="1000.5" width="1.4" height="1.5"/>
<rect x="209.52" y="1000.5" width="1.4" height="1.5"/>
<rect x="226.2" y="1000.5" width="1.4" height="1.5"/>
<rect x="234.54" y="1000.5" width="1.4" height="1.5"/>
<rect x="251.22" y="1000.5" width="1.4" height="1.5"/>
<rect x="259.56" y="1000.5" width="1.4" height="1.5"/>
<rect x="276.24" y="1000.5" width="1.4" height="1.5"/>
<rect x="284.58" y="1000.5" width="1.4" height="1.5"/>
<rect x="301.26" y="1000.5" width="1.4" height="1.5"/>
<rect x="309.6" y="1000.5" width="1.4" height="1.5"/>
<rect x="326.28" y="1000.5" width="1.4" height="1.5"/>
<rect x="334.62" y="1000.5" width="1.4" height="1.5"/>
<rect x="351.3" y="1000.5" width="1.4" height="1.5"/>
<rect x="359.64" y="1000.5" width="1.4" height="1.5"/>
<rect x="376.32" y="1000.5" width="1.4" height="1.5"/>
<rect x="384.66" y="1000.5" width="1.4" height="1.5"/>
<rect x="401.34" y="1000.5" width="1.4" height="1.5"/>
<rect x="409.68" y="1000.5" width="1.4" height="1.5"/>
<rect x="426.36" y="1000.5" width="1.4" height="1.5"/>
<rect x="434.7" y="1000.5" width="1.4" height="1.5"/>
<rect x="451.38" y="1000.5" width="1.4" height="1.5"/>
<rect x="459.72" y="1000.5" width="1.4" height="1.5"/>
<rect x="476.4" y="1000.5" width="1.4" height="1.5"/>
<rect x="484.74" y="1000.5" width="1.4" height="1.5"/>
<rect x="501.42" y="1000.5" width="1.4" height="1.5"/>
<rect x="509.76" y="1000.5" width="1.4" height="1.5"/>
<rect x="526.44" y="1000.5" width="1.4" height="1.5"/>
<rect x="534.78" y="1000.5" width="1.4" height="1.5"/>
<rect x="551.46" y="1000.5" width="1.4" height="1.5"/>
<rect x="559.8" y="1000.5" width="1.4" height="1.5"/>
<rect x="576.48" y="1000.5" width="1.4" height="1.5"/>
<rect x="584.82" y="1000.5" width="1.4" height="1.5"/>
<rect x="601.5" y="1000.5" width="1.4" height="1.5"/>
<rect x="609.84" y="1000.5" width="1.4" height="1.5"/>
<rect x="626.52" y="1000.5" width="1.4" height="1.5"/>
<rect x="634.86" y="1000.5" width="1.4" height="1.5"/>
<rect x="651.54" y="1000.5" width="1.4" height="1.5"/>
<rect x="659.88" y="1000.5" width="1.4" height="1.5"/>
<rect x="676.56" y="1000.5" width="1.4" height="1.5"/>
<rect x="684.9" y="1000.5" width="1.4" height="1.5"/>
<rect x="701.58" y="1000.5" width="1.4" height="1.5"/>
<rect x="709.92" y="1000.5" width="1.4" height="1.5"/>
<rect x="726.6" y="1000.5" width="1.4" height="1.5"/>
<rect x="734.94" y="1000.5" width="1.4" height="1.5"/>
<rect x="751.62" y="1000.5" width="1.4" height="1.5"/>
<rect x="759.96" y="1000.5" width="1.4" height="1.5"/>
<rect x="776.64" y="1000.5" width="1.4" height="1.5"/>
<rect x="784.98" y="1000.5" width="1.4" height="1.5"/>
<rect x="801.66" y="1000.5" width="1.4" height="1.5"/>
<rect x="810" y="1000.5" width="1.4" height="1.5"/>
<rect x="826.68" y="1000.5" width="1.4" height="1.5"/>
<rect x="835.02" y="1000.5" width="1.4" height="1.5"/>
<rect x="851.7" y="1000.5" width="1.4" height="1.5"/>
<rect x="860.04" y="1000.5" width="1.4" height="1.5"/>
<rect x="876.72" y="1000.5" width="1.4" height="1.5"/>
<rect x="885.06" y="1000.5" width="1.4" height="1.5"/>
<rect x="901.74" y="1000.5" width="1.4" height="1.5"/>
<rect x="910.08" y="1000.5" width="1.4" height="1.5"/>
<rect x="926.76" y="1000.5" width="1.4" height="1.5"/>
<rect x="935.1" y="1000.5" width="1.4" height="1.5"/>
<rect x="951.78" y="1000.5" width="1.4" height="1.5"/>
<rect x="960.12" y="1000.5" width="1.4" height="1.5"/>
<rect x="976.8" y="1000.5" width="1.4" height="1.5"/>
<rect x="985.14" y="1000.5" width="1.4" height="1.5"/>
<rect x="1001.82" y="1000.5" width="1.4" height="1.5"/>
<rect x="1010.16" y="1000.5" width="1.4" height="1.5"/>
<rect x="1026.84" y="1000.5" width="1.4" height="1.5"/>
<rect x="1035.18" y="1000.5" width="1.4" height="1.5"/>
<rect x="1051.86" y="1000.5" width="1.4" height="1.5"/>
<rect x="1060.2" y="1000.5" width="1.4" height="1.5"/>
<rect x="1076.88" y="1000.5" width="1.4" height="1.5"/>
<rect x="1085.22" y="1000.5" width="1.4" height="1.5"/>
<rect x="1101.9" y="1000.5" width="1.4" height="1.5"/>
<rect x="1110.24" y="1000.5" width="1.4" height="1.5"/>
<rect x="1126.92" y="1000.5" width="1.4" height="1.5"/>
<rect x="1135.26" y="1000.5" width="1.4" height="1.5"/>
<rect x="1151.94" y="1000.5" width="1.4" height="1.5"/>
<rect x="1160.28" y="1000.5" width="1.4" height="1.5"/>
<rect x="1176.96" y="1000.5" width="1.4" height="1.5"/>
<rect x="1185.3" y="1000.5" width="1.4" height="1.5"/>
<rect x="1201.98" y="1000.5" width="1.4" height="1.5"/>
<rect x="1210.32" y="1000.5" width="1.4" height="1.5"/>
<rect x="1227" y="1000.5" width="1.4" height="1.5"/>
<rect x="1235.34" y="1000.5" width="1.4" height="1.5"/>
<rect x="1252.02" y="1000.5" width="1.4" height="1.5"/>
<rect x="1260.36" y="1000.5" width="1.4" height="1.5"/>
</g>

<g shape-rendering="crispEdges">
<polygon points="20,739.9 95,739.9 96,739.57 98,738.63 100,739.57 101,739.9 144,739.9 145,739.48 147,738.28 149,739.48 150,739.9 486,739.9 487,739.87 489,739.68 490,739.51 491,737.31 492,737.07 493,737.07 494,735.07 495,735.07 496,733.08 498,733.18 499,731.22 502,731.35 503,729.35 505,729.35 506,727.35 508,727.35 509,725.35 512,725.35 513,723.35 515,723.35 516,721.33 519,721.26 520,719.24 522,719.22 523,717.22 525,717.22 526,715.22 528,715.22 529,713.22 531,713.22 532,711.22 534,711.23 535,709.25 537,709.28 538,707.3 540,707.32 541,705.32 544,705.32 545,703.32 547,703.32 548,701.32 550,701.32 551,699.32 554,699.3 555,697.28 557,697.24 558,695.23 560,695.22 561,693.22 563,693.22 564,691.22 566,691.22 567,689.22 569,689.22 570,687.22 572,687.21 573,685.2 575,685.18 576,683.17 578,683.16 579,681.16 581,681.16 582,679.16 584,679.16 585,677.16 587,677.16 588,675.16 590,675.16 591,673.17 593,673.2 594,671.22 596,671.24 597,669.25 599,669.25 600,667.25 602,667.25 603,665.25 605,665.25 606,663.25 609,663.25 610,661.25 612,661.24 613,659.24 615,659.24 616,657.24 618,657.24 619,655.24 621,655.24 622,653.24 624,653.24 625,651.24 627,651.24 628,649.24 630,649.13 631,647.07 633,646.94 634,644.88 635,644.88 636,642.88 638,642.88 639,640.88 640,640.88 641,638.88 643,639 644,637.06 645,637.13 646,635.19 648,635.26 649,635.26 650,633.26 652,633.26 653,631.26 655,631.26 656,629.26 658,629.26 659,627.26 661,627.26 662,625.26 664,625.26 665,623.26 668,623.19 669,621.16 670,621.13 671,619.1 673,619.08 674,617.08 676,617.08 677,615.08 679,615.08 680,613.08 681,613.08 682,611.08 684,611.08 685,609.08 687,609.1 688,607.14 690,607.22 691,605.25 693,605.3 694,603.3 696,603.3 697,601.3 700,601.3 701,599.3 703,599.3 704,597.3 706,597.29 707,595.28 709,595.24 710,593.23 712,593.2 713,591.2 716,591.2 717,589.2 719,589.2 720,587.2 722,587.2 723,585.2 725,585.21 726,583.22 728,583.23 729,581.24 731,581.24 732,579.24 734,579.24 735,577.24 737,577.24 738,575.24 740,575.24 741,573.24 743,573.24 744,571.24 746,571.27 747,569.29 750,569.34 751,567.34 753,567.34 754,565.34 757,565.34 758,563.34 760,563.34 761,561.32 763,561.27 764,559.24 766,559.19 767,557.19 769,557.19 770,555.19 772,555.19 773,553.19 775,553.19 776,551.2 778,551.24 779,549.26 782,549.31 783,547.31 785,547.31 786,545.31 788,545.31 789,543.31 791,543.31 792,541.33 795,541.43 796,539.46 799,539.5 800,537.5 803,537.5 804,535.5 807,535.5 808,533.52 812,533.58 813,531.59 816,531.59 817,529.59 821,529.59 822,527.59 826,527.7 827,525.72 833,525.77 834,523.77 840,523.78 841,521.79 849,521.81 850,519.81 854,519.81 859,519.87 860,517.88 879,517.88 880,515.88 881,516.72 888,516.05 900,515.2 986,515.15 987,514.88 989,514.12 991,514.88 992,515.15 1256,515.01 1257,514.67 1259,513.69 1261,514.66 1262,515 1268,515 1268,522 1227,522.02 1226,522.54 1224,524.02 1222,522.54 1221,522.03 1178,522.05 1177,522.57 1175,524.05 1173,522.57 1172,522.05 1110,522.09 1109,522.6 1107,524.09 1105,522.61 1104,522.09 928,522.18 927,522.83 925,524.69 923,522.84 922,522.19 921,522.19 920,522.84 918,524.69 916,522.84 915,522.19 900,522.2 897,522.42 896,523.14 894,525.13 892,523.42 891,522.85 888,523.08 881,523.75 880,522.92 879,524.92 860,524.92 859,526.93 854,526.99 850,526.99 849,528.99 841,529.01 840,531.02 834,531.03 833,533.03 829,533.03 827,533.08 826,535.1 823,535.2 822,535.21 821,537.21 817,537.21 816,539.21 813,539.21 812,541.22 808,541.28 807,543.3 804,543.3 803,545.3 800,545.3 799,547.3 797,547.31 796,547.34 795,549.68 793,550.63 792,550.22 791,551.8 790,551.49 789,551.49 788,553.49 786,553.49 785,555.49 783,555.49 782,557.49 779,557.54 778,559.56 776,559.6 775,561.61 773,561.61 772,563.61 770,563.61 769,565.61 767,565.61 766,567.61 764,567.56 763,569.53 761,569.48 760,571.46 758,571.46 757,573.46 754,573.46 753,575.46 751,575.46 750,577.46 747,577.51 746,579.53 744,579.56 743,581.56 741,581.56 740,583.56 738,583.56 737,585.56 735,585.56 734,587.56 732,587.56 731,589.56 729,589.56 728,591.57 726,591.58 725,593.59 723,593.6 722,595.6 720,595.6 719,597.6 717,597.6 716,599.6 713,599.6 712,601.6 710,601.57 709,603.56 707,603.52 706,605.51 704,605.5 703,607.5 701,607.5 700,609.5 697,609.5 696,611.5 694,611.5 693,613.5 691,613.55 690,615.58 688,615.66 687,617.7 685,617.72 684,619.72 682,619.72 681,621.72 680,621.72 679,623.72 677,623.72 676,625.72 674,625.72 673,627.72 671,627.7 670,629.67 669,629.64 668,631.61 665,631.54 664,633.54 662,633.54 661,635.54 659,635.54 658,637.54 656,637.54 655,639.54 653,639.54 652,641.54 650,641.54 649,643.54 647,643.55 646,643.61 645,645.67 644,645.74 643,647.8 641,647.92 640,649.92 639,649.92 638,651.92 636,651.92 635,653.92 634,653.92 633,655.86 631,655.73 630,657.67 628,657.56 627,659.56 625,659.56 624,661.56 623,661.56 622,662.31 621,665.38 620,664.31 619,663.56 618,665.56 616,665.56 615,667.56 613,667.56 612,669.56 610,669.55 609,671.55 606,671.55 605,673.55 603,673.55 602,675.55 600,675.55 599,677.55 597,677.55 596,679.56 594,679.58 593,681.6 591,681.63 590,683.64 588,683.64 587,685.64 585,685.64 584,687.64 582,687.64 581,689.64 579,689.64 578,691.64 576,691.63 575,693.62 573,693.6 572,695.59 570,695.58 569,697.58 567,697.58 566,699.58 564,699.58 563,701.58 561,701.58 560,703.58 558,703.57 557,705.56 555,705.52 554,707.5 551,707.48 550,709.48 548,709.48 547,711.48 545,711.48 544,713.48 541,713.48 540,715.48 538,715.5 537,717.52 535,717.55 534,719.57 532,719.58 531,721.58 529,721.58 528,723.58 526,723.58 525,725.58 523,725.58 522,727.58 520,727.56 519,729.54 516,729.47 515,731.45 513,731.45 512,733.45 509,733.45 508,735.45 506,735.45 505,737.45 503,737.45 502,739.45 499,739.58 498,741.62 496,741.72 495,743.73 494,743.73 493,745.73 492,745.73 491,745.49 490,747.29 488,747 487,746.93 441,746.9 440,747.33 438,748.56 436,747.33 435,746.9 195,746.9 194,747.35 193,747.99 192,747.35 191,746.9 102,746.9 101,747.34 99,748.59 97,747.34 96,746.9 20,746.9" fill="#c0c0c0"/>
<polygon points="20,247.8 37,247.8 38,247.07 40,244.98 42,247.07 43,247.8 45,247.8 46,247.04 48,244.86 50,247.04 51,247.8 52,247.8 53,247.02 55,244.8 57,247.02 58,247.8 61,247.8 62,246.99 64,244.66 66,246.99 67,247.8 68,247.8 69,247.04 71,244.86 73,247.04 74,247.8 78,247.8 79,246.99 81,244.68 83,246.99 84,247.8 89,247.8 90,247.22 92,245.57 93,245.71 94,245.54 95,245.13 96,245.31 97,245.13 98,243.92 100,244.14 101,246.01 102,247.06 103,247.8 107,247.8 108,247 109,245.85 110,244.1 112,244.68 113,246.34 114,246.51 115,246.12 116,245.13 118,247.11 119,247.8 121,247.8 122,247.17 123,246.26 124,244.64 126,244.42 127,246.07 128,246.37 129,246.05 130,245.03 132,247.08 133,247.8 137,247.8 138,247.23 140,245.59 141,245.78 142,245.7 143,245.38 144,245.64 145,245.61 146,245.32 148,247.16 149,247.8 153,247.8 154,246.99 155,245.84 156,243.91 158,244.03 159,245.93 160,246.42 161,246.31 162,244.66 164,244.19 165,245.91 166,247.02 167,247.8 168,247.8 169,247.19 171,245.46 172,245.6 173,245.42 174,244.98 176,247.07 177,247.8 186,247.8 187,247.2 189,245.47 191,247.2 192,247.8 205,247.8 206,247.23 208,245.3 210,246.61 211,247.02 212,246.86 213,246.94 214,244.62 217,244.84 218,244.89 221,244.89 227,244.61 228,242.2 237,242.28 238,242.28 239,239.88 243,239.82 244,239.27 246,237.69 248,239.23 249,239.77 250,237.39 255,237.59 259,237.6 262,237.38 263,234.91 265,234.76 270,234.84 271,232.46 280,232.48 281,230.08 289,230.09 290,227.69 299,227.69 300,225.29 301,224.73 303,223.13 305,224.73 306,225.29 309,225.29 310,222.89 311,222.89 312,222.13 313,221.05 314,222.13 315,222.89 318,222.89 319,220.49 328,220.49 329,218.09 338,218.09 339,215.69 347,215.69 348,213.29 357,213.29 358,210.89 362,210.89 363,210.4 365,208.98 366,209.69 367,208 368,208.49 376,208.49 377,206.09 385,206.09 386,203.69 395,203.69 396,201.29 405,201.29 406,198.89 414,198.89 415,196.49 424,196.49 425,194.09 434,194.09 435,191.69 443,191.69 444,189.29 453,189.29 454,186.89 461,186.89 462,186.94 463,184.59 467,184.79 469,184.79 470,184.16 472,182.36 474,184.16 475,184.79 476,182.39 483,182.2 484,181.71 486,180.3 487,181 488,179.31 489,179.8 491,179.8 492,179.04 493,177.96 494,179.04 495,179.8 498,179.8 499,177.4 503,177.4 504,177.04 506,176.03 508,177.04 509,177.4 510,175 516,175 517,174.6 519,173.47 520,171.63 521,172.2 522,172.6 530,172.6 531,170.2 540,170.19 541,169.61 542,166.39 543,165.57 545,167.21 546,167.78 551,167.78 552,165.38 562,165.38 563,162.1 564,160.84 565,162.1 566,162.98 569,162.98 570,162.04 571,160.69 572,162.04 573,160.58 583,160.58 584,158.18 593,158.18 594,155.44 596,154.46 598,155.41 599,155.73 603,155.66 604,153.26 613,153.26 614,150.86 622,150.86 623,148.46 631,148.46 632,146.06 633,146.06 634,145.18 635,143.92 636,145.18 637,146.06 640,146.06 641,143.66 647,143.74 650,143.74 651,141.34 660,141.34 661,138.94 662,137.92 663,136.45 664,137.92 665,138.94 669,138.94 670,138.34 671,137.48 672,135.94 673,136.54 681,136.54 682,134.14 691,134.19 692,131.8 694,131.8 695,131.18 697,129.43 699,131.18 700,131.8 702,131.8 703,129.4 712,129.4 713,127 714,127 715,126.38 716,125.5 717,126.38 718,127 723,127 724,124.6 730,124.6 731,124.08 733,122.6 734,123.34 735,121.68 736,122.2 737,121.86 739,120.92 741,121.86 742,122.2 743,121.7 744,120.99 745,117.88 747,119.28 748,119.76 752,119.69 754,119.69 755,117.29 758,117.29 759,116.7 761,115 763,116.7 764,117.29 765,114.89 766,114.89 767,113.87 768,112.42 769,113.87 770,114.89 773,114.89 774,112.49 783,112.49 784,110.09 788,110.09 789,109.52 791,107.9 793,109.52 794,107.69 802,107.69 803,105.29 806,105.28 811,105.14 812,102.35 814,101.27 816,102.35 817,102.73 819,102.73 820,100.33 823,100.33 824,99.68 825,98.76 826,99.68 827,100.33 828,100.38 829,98.04 833,98.24 834,98.24 835,97.88 838,97.64 841,98 906,97.97 907,97.07 908,95.79 909,97.07 910,97.97 942,97.95 943,97.11 944,95.91 945,97.11 946,97.95 947,97.95 948,96.95 949,95.53 950,96.95 951,97.95 967,97.94 968,97.01 969,95.68 970,97.01 971,97.94 974,97.94 975,96.88 976,95.38 977,96.88 978,97.93 989,97.93 990,96.97 991,95.6 992,96.97 993,97.93 1006,97.92 1007,96.97 1008,95.62 1009,96.97 1010,97.92 1020,97.91 1021,97.14 1022,96.05 1023,97.14 1024,97.91 1033,97.91 1034,96.91 1035,95.49 1036,96.91 1037,97.91 1042,97.9 1043,97.09 1044,95.92 1045,97.09 1046,97.9 1060,97.9 1061,97.18 1062,96.16 1063,97.18 1064,97.89 1076,97.89 1077,97.2 1078,96.22 1079,97.2 1080,97.16 1081,96.12 1082,97.16 1083,97.88 1084,97.12 1085,96.02 1086,97.12 1087,97.88 1101,97.88 1102,96.94 1103,95.6 1104,96.94 1105,97.87 1113,97.87 1114,97.09 1115,95.98 1116,97.09 1117,97.87 1128,97.86 1129,97.18 1130,96.2 1131,97.18 1132,97.86 1137,97.86 1138,96.89 1139,95.49 1140,96.88 1141,97.86 1154,97.85 1155,96.96 1156,95.69 1157,96.96 1158,97.85 1168,97.85 1169,97.17 1170,96.22 1171,97.17 1172,97.84 1179,97.84 1180,97.16 1181,96.19 1182,97.16 1183,97.84 1200,97.83 1201,97.12 1202,96.1 1203,97.12 1204,97.83 1207,97.83 1208,97.02 1209,95.87 1210,97.02 1211,97.83 1215,97.82 1216,96.81 1217,95.36 1218,96.81 1219,97.82 1225,97.82 1226,96.77 1227,95.27 1228,96.77 1229,97.82 1234,97.81 1235,96.9 1236,95.6 1237,96.9 1238,97.81 1247,97.81 1248,97.05 1249,95.98 1250,97.05 1251,97.81 1268,97.8 1268,104.8 884,104.98 883,105.55 881,107.18 879,105.55 878,104.98 864,104.99 863,105.56 861,107.19 859,105.56 858,104.99 845,105 844,105.57 842,107.2 841,106.39 840,105.69 839,105.24 838,105.36 835,106.4 834,106.76 833,106.76 829,106.96 828,109.42 827,109.47 820,109.47 819,111.87 812,111.87 811,114.26 806,114.12 803,114.11 802,116.51 794,116.51 793,118.91 789,118.91 788,119.88 787,121.26 786,119.88 785,118.91 784,118.91 783,121.31 774,121.31 773,123.71 768,123.71 767,124.21 765,125.65 764,127.33 763,126.61 762,126.11 755,126.11 754,128.51 746,128.41 745,128.4 744,130.8 735,130.8 734,133.2 724,133.2 723,135.6 716,135.6 715,136.06 713,137.37 712,139.11 711,138.46 710,138 703,138 702,140.4 692,140.4 691,142.81 682,142.86 681,145.26 672,145.26 671,147.66 666,147.66 665,148.47 664,149.62 663,148.47 662,147.66 661,147.66 660,150.06 659,150.38 657,151.32 655,150.38 654,150.06 651,150.06 650,152.46 641,152.54 640,154.94 632,154.94 631,157.34 630,157.34 629,157.84 627,159.27 625,157.84 624,157.34 623,157.34 622,159.74 614,159.74 613,162.14 604,162.14 603,164.54 597,164.43 594,164.42 593,166.82 591,166.82 590,167.39 588,169.02 586,167.39 585,166.82 584,166.82 583,169.22 582,169.53 580,170.44 578,169.53 577,169.22 573,169.22 572,171.62 563,171.62 562,174.02 559,174.02 558,174.39 556,175.46 554,174.39 553,174.02 552,174.02 551,176.42 549,176.42 548,177.01 546,178.7 544,177.01 543,176.42 542,176.42 541,178.81 531,178.8 530,181.2 520,181.2 519,183.6 517,183.6 516,183.92 514,184.83 512,183.92 511,183.6 510,183.6 509,186 507,186 506,186.37 504,187.41 502,186.37 501,186 499,186 498,188.89 496,190.28 494,188.89 493,188.4 489,188.4 488,188.9 487,192.02 486,192.73 484,191.3 483,190.8 482,191.34 480,192.9 478,191.21 477,190.61 476,190.61 475,193.01 467,193.01 463,193.21 462,195.66 461,195.71 454,195.71 453,198.11 444,198.11 443,200.51 435,200.51 434,202.91 425,202.91 424,205.31 415,205.31 414,207.71 411,207.71 410,208.56 409,209.78 408,208.56 407,207.71 406,207.71 405,210.11 396,210.11 395,212.51 386,212.51 385,214.91 377,214.91 376,217.31 367,217.31 366,219.71 358,219.71 357,222.11 349,222.11 348,222.81 347,226.21 346,225.21 345,224.51 339,224.51 338,226.91 329,226.91 328,229.31 319,229.31 318,231.71 310,231.71 309,234.11 302,234.11 301,234.65 300,235.42 299,238.59 297,237.05 296,236.51 290,236.51 289,238.91 281,238.92 280,241.32 272,241.32 271,241.34 270,243.76 266,243.84 265,243.84 263,243.69 262,246.02 260,245.87 259,246.31 257,247.75 255,246.32 254,245.85 250,246.01 249,248.43 246,248.43 240,248.32 239,248.32 238,250.72 230,250.8 229,251.61 228,252.76 227,254 226,253.14 221,252.91 218,252.91 214,253.18 213,255.66 212,255.74 207,254.94 206,254.8 67,254.8 66,255.58 64,257.8 62,255.58 61,254.8 20,254.8" fill="#000"/>
<polygon points="20,497.4 23,497.4 24,496.77 26,494.96 28,496.77 29,497.4 31,497.4 32,496.63 34,494.42 36,496.63 37,497.4 56,497.4 57,496.75 59,494.9 61,496.75 62,497.4 78,497.4 79,496.62 81,494.39 83,496.62 84,497.4 128,497.4 129,496.71 131,494.73 133,496.71 134,497.4 159,497.4 160,496.66 162,494.53 164,496.66 165,497.4 179,497.4 180,496.65 182,494.49 184,496.65 185,497.4 209,497.4 212,497.33 214,497.24 215,494.78 218,494.83 222,494.83 223,492.43 230,492.43 231,490.03 232,489.4 234,487.61 236,489.4 237,490.03 238,490.03 239,487.65 244,487.7 247,487.7 248,484.8 250,483.35 252,484.8 253,484.72 255,483.07 257,484.72 258,482.9 264,482.74 265,482.73 266,480.33 271,480.33 272,477.93 273,477.4 275,475.88 277,477.4 278,475.53 284,475.67 285,473.29 290,473.29 291,472.83 293,471.54 294,472.19 295,470.43 296,470.89 297,469.99 298,468.69 299,469.99 300,470.87 303,470.81 304,468.39 309,468.36 310,465.96 316,465.96 317,463.56 322,463.58 323,461.19 329,461.21 330,458.81 337,458.81 338,456.41 344,456.43 345,454.03 352,454.04 353,451.64 360,451.64 361,449.23 367,449.19 368,446.79 374,446.79 375,444.39 381,444.39 382,442.01 387,442.07 389,442.07 390,439.67 394,439.67 395,438.92 396,437.85 397,438.92 398,439.67 399,437.27 404,437.22 406,437.18 407,434.76 413,434.75 414,432.35 419,432.35 420,429.95 426,430.04 427,427.66 434,427.67 435,425.27 443,425.28 444,422.88 450,422.91 451,422.6 452,422.11 453,421.48 454,418.37 456,413.44 457,414.1 458,412.3 459,412.8 460,413.17 464,413.17 465,410.77 471,410.77 472,408.37 477,408.37 478,405.97 484,405.97 485,403.57 491,403.57 492,401.17 497,401.17 498,398.77 504,398.77 505,396.37 511,396.37 512,393.97 517,393.97 518,391.57 524,391.57 525,389.17 531,389.17 532,386.77 536,386.77 537,386.79 538,384.4 545,384.45 546,382.05 554,382.05 555,379.65 562,379.65 563,377.25 564,377.25 565,376.59 566,375.66 567,376.59 568,377.25 570,377.25 571,374.85 578,374.85 579,372.45 587,372.45 588,370.05 595,370.05 596,367.65 597,367.65 598,366.84 599,365.68 600,366.83 601,367.64 603,367.63 604,365.23 611,365.23 612,362.83 618,362.83 619,360.43 626,360.43 627,358.03 630,358.03 631,357.53 632,356.81 633,357.53 634,358.03 635,355.63 641,355.63 642,353.23 647,353.26 648,352.78 649,352.09 650,349.01 652,350.38 653,350.86 658,350.86 659,348.46 666,348.46 667,346.06 675,346.06 676,343.66 683,343.66 684,341.26 692,341.3 693,338.9 699,338.9 702,338.86 703,336.44 709,336.39 710,333.99 714,333.99 715,333.14 717,330.74 718,331.59 723,331.59 724,329.2 730,329.22 731,326.82 738,326.82 739,324.42 745,324.43 746,322.04 754,322.07 755,319.67 760,319.66 761,319.1 762,318.31 763,316.7 764,317.26 771,317.26 772,314.86 780,314.89 781,312.49 790,312.49 791,310.09 799,310.09 800,307.69 805,307.69 806,307.22 808,305.87 809,306.54 810,304.82 811,305.29 817,305.29 818,305.26 819,302.82 823,302.64 824,302.64 825,300.24 826,300.24 827,299.89 828,299.38 829,298.96 830,297.13 831,297.69 832,298.09 834,298.17 842,298.14 843,298.13 844,295.72 850,295.71 851,295.29 853,294.87 876,294.56 877,293.51 878,292.03 879,293.49 880,294.5 1268,294.7 1268,301.9 880,301.7 877,301.74 876,302.54 874,304.79 872,302.6 871,301.83 869,301.86 868,302.66 866,304.91 865,303.81 864,303.49 863,303.84 862,304.97 860,302.77 859,302.01 854,302.1 853,302.13 851,302.62 850,303.09 847,303.09 846,303.47 844,304.55 843,306.4 842,305.84 841,305.45 834,305.43 831,305.56 830,305.62 829,308.08 828,308.59 826,309.8 825,309.19 824,310.99 823,310.56 819,310.38 818,312.74 810,312.71 809,315.11 800,315.11 799,317.51 791,317.51 790,319.91 781,319.91 780,322.31 772,322.34 771,324.74 763,324.74 762,327.14 755,327.13 754,329.53 746,329.56 745,331.97 739,331.98 738,334.38 731,334.38 730,336.78 724,336.8 723,339.21 717,339.21 716,341.61 710,341.61 709,344.01 705,344 703,343.96 702,346.34 693,346.3 692,348.7 684,348.74 683,351.14 676,351.14 675,353.54 667,353.54 666,355.94 659,355.94 658,358.34 650,358.34 649,360.74 642,360.77 641,363.17 635,363.17 634,365.57 627,365.57 626,367.97 619,367.97 618,370.37 612,370.37 611,372.77 604,372.77 603,375.17 596,375.15 595,377.55 588,377.55 587,379.95 586,379.95 585,380.42 583,381.76 581,380.42 580,379.95 579,379.95 578,382.35 571,382.35 570,384.75 563,384.75 562,387.15 555,387.15 554,389.55 546,389.55 545,391.95 538,392 537,394.41 532,394.43 531,396.83 525,396.83 524,399.23 518,399.23 517,401.63 512,401.63 511,404.03 508,404.03 507,404.42 505,405.53 504,407.38 503,406.82 502,406.43 498,406.43 497,408.83 495,408.83 494,409.49 493,410.45 492,409.49 491,411.23 485,411.23 484,413.63 481,413.63 480,414.06 478,415.31 477,417.09 476,416.46 475,416.03 472,416.03 471,418.43 465,418.43 464,420.83 460,420.83 459,421.2 458,421.7 457,424.7 456,425.36 454,430.03 453,431.72 452,431.09 451,430.6 450,430.29 444,430.32 443,432.72 439,432.73 438,433.27 436,434.8 435,434.03 434,435.67 433,435.13 428,435.13 427,435.14 426,437.56 422,437.65 420,437.65 419,440.05 414,440.05 413,442.81 411,443.83 409,442.81 408,442.45 407,442.44 406,444.82 401,444.73 399,444.73 398,447.13 390,447.13 389,449.53 382,449.59 381,452.01 375,452.01 374,454.41 368,454.41 367,456.81 361,456.77 360,459.16 353,459.16 352,461.56 345,461.57 344,463.97 338,463.99 337,466.39 330,466.39 329,468.79 325,468.79 324,469.34 323,470.13 322,473.31 320,471.78 319,471.24 317,471.24 316,474.22 314,475.88 312,474.22 311,473.64 310,473.64 309,476.04 305,476.04 304,476.01 303,478.39 299,478.31 295,478.31 294,480.71 285,480.71 284,483.13 279,483.26 278,483.27 277,485.67 272,485.67 271,488.07 266,488.07 265,490.47 259,490.31 258,490.3 257,492.7 248,492.7 247,495.1 239,495.15 238,497.57 231,497.57 230,499.97 223,499.97 222,502.37 217,502.37 215,502.42 214,504.76 210,504.61 124,504.6 123,505.09 122,505.8 121,505.09 120,504.6 48,504.6 47,504.99 45,506.1 43,504.99 42,504.6 31,504.6 30,504.99 28,506.1 26,504.99 25,504.6 20,504.6" fill="#ff0000"/>
<polygon points="20,872.4 617,872.4 618,871.88 620,870.4 622,871.88 623,872.4 877,872.4 878,871.88 880,870.4 882,871.88 883,872.4 937,872.4 938,871.88 940,870.4 942,871.88 943,872.4 973,872.4 974,871.58 975,870.4 976,871.58 977,872.4 1010,872.4 1010,880.2 907,880.2 906,880.82 905,881.7 904,880.82 903,880.2 603,880.2 602,880.59 600,881.7 598,880.59 597,880.2 85,880.2 84,880.94 83,882 82,880.94 81,880.2 68,880.2 67,880.94 66,882 65,880.94 64,880.2 52,880.2 51,880.94 50,882 49,880.94 48,880.2 26,880.2 25,880.82 24,881.7 23,880.82 22,880.2 20,880.2" fill="#128898"/>
<polygon points="1011,765 1016,765 1016,762.7 1023,762.7 1023,759.5 1048,759.5 1048,757.6 1068,757.6 1070,755.5 1072,757.6 1268,757.6 1268,767.3 1250.5,767.3 1248,770 1245.5,767.3 1238.5,767.3 1236,770 1233.5,767.3 1230.5,767.3 1228,770 1225.5,767.3 1214.5,767.3 1212,770 1209.5,767.3 1190.5,767.3 1188,770 1185.5,767.3 1174.5,767.3 1172,770 1169.5,767.3 1150.5,767.3 1148,770 1145.5,767.3 1138.5,767.3 1136,770 1133.5,767.3 1118.5,767.3 1116,770 1113.5,767.3 1105.5,767.3 1103,770 1100.5,767.3 1094.5,767.3 1092,770 1089.5,767.3 1084.5,767.3 1082,770 1079.5,767.3 1080,767.3 1080,769.6 1036,769.6 1036,772.3 1017,772.3 1017,775 1011,775" fill="#128898"/>
<rect x="1008" y="820" width="2" height="60" fill="#128898"/><rect x="1008" y="820" width="4.5" height="8" fill="#128898"/><rect x="1010.7" y="764" width="2.2" height="64" fill="#128898"/>
</g>
<g fill="#111" shape-rendering="crispEdges"><rect x="882" y="294.6" width="1" height="1"/><rect x="884" y="294.6" width="1" height="1"/><rect x="886" y="294.6" width="1" height="1"/><rect x="888" y="294.6" width="1" height="1"/><rect x="890" y="294.6" width="1" height="1"/><rect x="892" y="294.6" width="1" height="1"/><rect x="894" y="294.6" width="1" height="1"/><rect x="896" y="294.6" width="1" height="1"/><rect x="898" y="294.6" width="1" height="1"/><rect x="900" y="294.6" width="1" height="1"/><rect x="902" y="294.6" width="1" height="1"/><rect x="904" y="294.6" width="1" height="1"/><rect x="906" y="294.6" width="1" height="1"/><rect x="908" y="294.6" width="1" height="1"/><rect x="910" y="294.6" width="1" height="1"/><rect x="912" y="294.6" width="1" height="1"/><rect x="914" y="294.6" width="1" height="1"/><rect x="916" y="294.6" width="1" height="1"/><rect x="918" y="294.6" width="1" height="1"/><rect x="920" y="294.6" width="1" height="1"/><rect x="922" y="294.6" width="1" height="1"/><rect x="924" y="294.6" width="1" height="1"/><rect x="926" y="294.6" width="1" height="1"/><rect x="928" y="294.6" width="1" height="1"/><rect x="930" y="294.6" width="1" height="1"/><rect x="932" y="294.6" width="1" height="1"/><rect x="934" y="294.6" width="1" height="1"/><rect x="936" y="294.6" width="1" height="1"/><rect x="938" y="294.6" width="1" height="1"/><rect x="940" y="294.6" width="1" height="1"/><rect x="942" y="294.6" width="1" height="1"/><rect x="944" y="294.6" width="1" height="1"/><rect x="946" y="294.6" width="1" height="1"/><rect x="948" y="294.6" width="1" height="1"/><rect x="950" y="294.6" width="1" height="1"/><rect x="952" y="294.6" width="1" height="1"/><rect x="954" y="294.6" width="1" height="1"/><rect x="956" y="294.6" width="1" height="1"/><rect x="958" y="294.6" width="1" height="1"/><rect x="960" y="294.6" width="1" height="1"/><rect x="962" y="294.6" width="1" height="1"/><rect x="964" y="294.6" width="1" height="1"/><rect x="966" y="294.6" width="1" height="1"/><rect x="968" y="294.6" width="1" height="1"/><rect x="970" y="294.6" width="1" height="1"/><rect x="972" y="294.6" width="1" height="1"/><rect x="974" y="294.6" width="1" height="1"/><rect x="976" y="294.6" width="1" height="1"/><rect x="978" y="294.6" width="1" height="1"/><rect x="980" y="294.6" width="1" height="1"/><rect x="982" y="294.6" width="1" height="1"/><rect x="984" y="294.6" width="1" height="1"/><rect x="986" y="294.6" width="1" height="1"/><rect x="988" y="294.6" width="1" height="1"/><rect x="990" y="294.6" width="1" height="1"/><rect x="992" y="294.6" width="1" height="1"/><rect x="994" y="294.6" width="1" height="1"/><rect x="996" y="294.6" width="1" height="1"/><rect x="998" y="294.6" width="1" height="1"/><rect x="1000" y="294.6" width="1" height="1"/><rect x="1002" y="294.6" width="1" height="1"/><rect x="1004" y="294.6" width="1" height="1"/><rect x="1006" y="294.6" width="1" height="1"/><rect x="1008" y="294.6" width="1" height="1"/><rect x="1010" y="294.6" width="1" height="1"/><rect x="1012" y="294.6" width="1" height="1"/><rect x="1014" y="294.6" width="1" height="1"/><rect x="1016" y="294.6" width="1" height="1"/><rect x="1018" y="294.6" width="1" height="1"/><rect x="1020" y="294.6" width="1" height="1"/><rect x="1022" y="294.6" width="1" height="1"/><rect x="1024" y="294.6" width="1" height="1"/><rect x="1026" y="294.6" width="1" height="1"/><rect x="1028" y="294.6" width="1" height="1"/><rect x="1030" y="294.6" width="1" height="1"/><rect x="1032" y="294.6" width="1" height="1"/><rect x="1034" y="294.6" width="1" height="1"/><rect x="1036" y="294.6" width="1" height="1"/><rect x="1038" y="294.6" width="1" height="1"/><rect x="1040" y="294.6" width="1" height="1"/><rect x="1042" y="294.6" width="1" height="1"/><rect x="1044" y="294.6" width="1" height="1"/><rect x="1046" y="294.6" width="1" height="1"/><rect x="1048" y="294.6" width="1" height="1"/><rect x="1050" y="294.6" width="1" height="1"/><rect x="1052" y="294.6" width="1" height="1"/><rect x="1054" y="294.6" width="1" height="1"/><rect x="1056" y="294.6" width="1" height="1"/><rect x="1058" y="294.6" width="1" height="1"/><rect x="1060" y="294.6" width="1" height="1"/><rect x="1062" y="294.6" width="1" height="1"/><rect x="1064" y="294.6" width="1" height="1"/><rect x="1066" y="294.6" width="1" height="1"/><rect x="1068" y="294.6" width="1" height="1"/><rect x="1070" y="294.6" width="1" height="1"/><rect x="1072" y="294.6" width="1" height="1"/><rect x="1074" y="294.6" width="1" height="1"/><rect x="1076" y="294.6" width="1" height="1"/><rect x="1078" y="294.6" width="1" height="1"/><rect x="1080" y="294.6" width="1" height="1"/><rect x="1082" y="294.6" width="1" height="1"/><rect x="1084" y="294.6" width="1" height="1"/><rect x="1086" y="294.6" width="1" height="1"/><rect x="1088" y="294.6" width="1" height="1"/><rect x="1090" y="294.6" width="1" height="1"/><rect x="1092" y="294.6" width="1" height="1"/><rect x="1094" y="294.6" width="1" height="1"/><rect x="1096" y="294.6" width="1" height="1"/><rect x="1098" y="294.6" width="1" height="1"/><rect x="1100" y="294.6" width="1" height="1"/><rect x="1102" y="294.6" width="1" height="1"/><rect x="1104" y="294.6" width="1" height="1"/><rect x="1106" y="294.6" width="1" height="1"/><rect x="1108" y="294.6" width="1" height="1"/><rect x="1110" y="294.6" width="1" height="1"/><rect x="1112" y="294.6" width="1" height="1"/><rect x="1114" y="294.6" width="1" height="1"/><rect x="1116" y="294.6" width="1" height="1"/><rect x="1118" y="294.6" width="1" height="1"/><rect x="1120" y="294.6" width="1" height="1"/><rect x="1122" y="294.6" width="1" height="1"/><rect x="1124" y="294.6" width="1" height="1"/><rect x="1126" y="294.6" width="1" height="1"/><rect x="1128" y="294.6" width="1" height="1"/><rect x="1130" y="294.6" width="1" height="1"/><rect x="1132" y="294.6" width="1" height="1"/><rect x="1134" y="294.6" width="1" height="1"/><rect x="1136" y="294.6" width="1" height="1"/><rect x="1138" y="294.6" width="1" height="1"/><rect x="1140" y="294.6" width="1" height="1"/><rect x="1142" y="294.6" width="1" height="1"/><rect x="1144" y="294.6" width="1" height="1"/><rect x="1146" y="294.6" width="1" height="1"/><rect x="1148" y="294.6" width="1" height="1"/><rect x="1150" y="294.6" width="1" height="1"/><rect x="1152" y="294.6" width="1" height="1"/><rect x="1154" y="294.6" width="1" height="1"/><rect x="1156" y="294.6" width="1" height="1"/><rect x="1158" y="294.6" width="1" height="1"/><rect x="1160" y="294.6" width="1" height="1"/><rect x="1162" y="294.6" width="1" height="1"/><rect x="1164" y="294.6" width="1" height="1"/><rect x="1166" y="294.6" width="1" height="1"/><rect x="1168" y="294.6" width="1" height="1"/><rect x="1170" y="294.6" width="1" height="1"/><rect x="1172" y="294.6" width="1" height="1"/><rect x="1174" y="294.6" width="1" height="1"/><rect x="1176" y="294.6" width="1" height="1"/><rect x="1178" y="294.6" width="1" height="1"/><rect x="1180" y="294.6" width="1" height="1"/><rect x="1182" y="294.6" width="1" height="1"/><rect x="1184" y="294.6" width="1" height="1"/><rect x="1186" y="294.6" width="1" height="1"/><rect x="1188" y="294.6" width="1" height="1"/><rect x="1190" y="294.6" width="1" height="1"/><rect x="1192" y="294.6" width="1" height="1"/><rect x="1194" y="294.6" width="1" height="1"/><rect x="1196" y="294.6" width="1" height="1"/><rect x="1198" y="294.6" width="1" height="1"/><rect x="1200" y="294.6" width="1" height="1"/><rect x="1202" y="294.6" width="1" height="1"/><rect x="1204" y="294.6" width="1" height="1"/><rect x="1206" y="294.6" width="1" height="1"/><rect x="1208" y="294.6" width="1" height="1"/><rect x="1210" y="294.6" width="1" height="1"/><rect x="1212" y="294.6" width="1" height="1"/><rect x="1214" y="294.6" width="1" height="1"/><rect x="1216" y="294.6" width="1" height="1"/><rect x="1218" y="294.6" width="1" height="1"/><rect x="1220" y="294.6" width="1" height="1"/><rect x="1222" y="294.6" width="1" height="1"/><rect x="1224" y="294.6" width="1" height="1"/><rect x="1226" y="294.6" width="1" height="1"/><rect x="1228" y="294.6" width="1" height="1"/><rect x="1230" y="294.6" width="1" height="1"/><rect x="1232" y="294.6" width="1" height="1"/><rect x="1234" y="294.6" width="1" height="1"/><rect x="1236" y="294.6" width="1" height="1"/><rect x="1238" y="294.6" width="1" height="1"/><rect x="1240" y="294.6" width="1" height="1"/><rect x="1242" y="294.6" width="1" height="1"/><rect x="1244" y="294.6" width="1" height="1"/><rect x="1246" y="294.6" width="1" height="1"/><rect x="1248" y="294.6" width="1" height="1"/><rect x="1250" y="294.6" width="1" height="1"/><rect x="1252" y="294.6" width="1" height="1"/><rect x="1254" y="294.6" width="1" height="1"/><rect x="1256" y="294.6" width="1" height="1"/><rect x="1258" y="294.6" width="1" height="1"/><rect x="1260" y="294.6" width="1" height="1"/><rect x="1262" y="294.6" width="1" height="1"/><rect x="1264" y="294.6" width="1" height="1"/><rect x="884" y="301.4" width="1" height="1"/><rect x="892" y="301.4" width="1" height="1"/><rect x="900" y="301.4" width="1" height="1"/><rect x="908" y="301.4" width="1" height="1"/><rect x="916" y="301.4" width="1" height="1"/><rect x="924" y="301.4" width="1" height="1"/><rect x="932" y="301.4" width="1" height="1"/><rect x="940" y="301.4" width="1" height="1"/><rect x="948" y="301.4" width="1" height="1"/><rect x="956" y="301.4" width="1" height="1"/><rect x="964" y="301.4" width="1" height="1"/><rect x="972" y="301.4" width="1" height="1"/><rect x="980" y="301.4" width="1" height="1"/><rect x="988" y="301.4" width="1" height="1"/><rect x="996" y="301.4" width="1" height="1"/><rect x="1004" y="301.4" width="1" height="1"/><rect x="1012" y="301.4" width="1" height="1"/><rect x="1020" y="301.4" width="1" height="1"/><rect x="1028" y="301.4" width="1" height="1"/><rect x="1036" y="301.4" width="1" height="1"/><rect x="1044" y="301.4" width="1" height="1"/><rect x="1052" y="301.4" width="1" height="1"/><rect x="1060" y="301.4" width="1" height="1"/><rect x="1068" y="301.4" width="1" height="1"/><rect x="1076" y="301.4" width="1" height="1"/><rect x="1084" y="301.4" width="1" height="1"/><rect x="1092" y="301.4" width="1" height="1"/><rect x="1100" y="301.4" width="1" height="1"/><rect x="1108" y="301.4" width="1" height="1"/><rect x="1116" y="301.4" width="1" height="1"/><rect x="1124" y="301.4" width="1" height="1"/><rect x="1132" y="301.4" width="1" height="1"/><rect x="1140" y="301.4" width="1" height="1"/><rect x="1148" y="301.4" width="1" height="1"/><rect x="1156" y="301.4" width="1" height="1"/><rect x="1164" y="301.4" width="1" height="1"/><rect x="1172" y="301.4" width="1" height="1"/><rect x="1180" y="301.4" width="1" height="1"/><rect x="1188" y="301.4" width="1" height="1"/><rect x="1196" y="301.4" width="1" height="1"/><rect x="1204" y="301.4" width="1" height="1"/><rect x="1212" y="301.4" width="1" height="1"/><rect x="1220" y="301.4" width="1" height="1"/><rect x="1228" y="301.4" width="1" height="1"/><rect x="1236" y="301.4" width="1" height="1"/><rect x="1244" y="301.4" width="1" height="1"/><rect x="1252" y="301.4" width="1" height="1"/><rect x="1260" y="301.4" width="1" height="1"/><rect x="21" y="504" width="1" height="1"/><rect x="29" y="504" width="1" height="1"/><rect x="37" y="504" width="1" height="1"/><rect x="45" y="504" width="1" height="1"/><rect x="53" y="504" width="1" height="1"/><rect x="61" y="504" width="1" height="1"/><rect x="69" y="504" width="1" height="1"/><rect x="77" y="504" width="1" height="1"/><rect x="85" y="504" width="1" height="1"/><rect x="93" y="504" width="1" height="1"/><rect x="101" y="504" width="1" height="1"/><rect x="109" y="504" width="1" height="1"/><rect x="117" y="504" width="1" height="1"/><rect x="125" y="504" width="1" height="1"/><rect x="133" y="504" width="1" height="1"/><rect x="141" y="504" width="1" height="1"/><rect x="149" y="504" width="1" height="1"/><rect x="157" y="504" width="1" height="1"/><rect x="165" y="504" width="1" height="1"/><rect x="173" y="504" width="1" height="1"/><rect x="181" y="504" width="1" height="1"/><rect x="189" y="504" width="1" height="1"/><rect x="197" y="504" width="1" height="1"/><rect x="205" y="504" width="1" height="1"/><rect x="1037" y="769" width="1" height="1"/><rect x="1040" y="769" width="1" height="1"/><rect x="1043" y="769" width="1" height="1"/><rect x="1046" y="769" width="1" height="1"/><rect x="1049" y="769" width="1" height="1"/><rect x="1052" y="769" width="1" height="1"/><rect x="1055" y="769" width="1" height="1"/><rect x="1058" y="769" width="1" height="1"/><rect x="1061" y="769" width="1" height="1"/><rect x="1064" y="769" width="1" height="1"/><rect x="1067" y="769" width="1" height="1"/><rect x="1070" y="769" width="1" height="1"/><rect x="1073" y="769" width="1" height="1"/><rect x="1076" y="769" width="1" height="1"/><rect x="1079" y="769" width="1" height="1"/><rect x="1008" y="830" width="1" height="1"/><rect x="1008" y="833" width="1" height="1"/><rect x="1008" y="836" width="1" height="1"/><rect x="1008" y="839" width="1" height="1"/><rect x="1008" y="842" width="1" height="1"/><rect x="1008" y="845" width="1" height="1"/><rect x="1008" y="848" width="1" height="1"/><rect x="1008" y="851" width="1" height="1"/><rect x="1008" y="854" width="1" height="1"/><rect x="1008" y="857" width="1" height="1"/><rect x="1008" y="860" width="1" height="1"/><rect x="1008" y="863" width="1" height="1"/><rect x="1008" y="866" width="1" height="1"/><rect x="1008" y="869" width="1" height="1"/><rect x="1008" y="872" width="1" height="1"/><rect x="1008" y="875" width="1" height="1"/></g>


<defs>
<pattern id="tph" x="0" y="0" width="2" height="1" patternUnits="userSpaceOnUse"><rect x="1" y="0" width="1" height="1" fill="#128898"/></pattern>
<pattern id="tpv" x="0" y="0" width="1" height="2" patternUnits="userSpaceOnUse"><rect x="0" y="1" width="1" height="1" fill="#128898"/></pattern>
</defs>
<g shape-rendering="crispEdges">
<rect x="16" y="0" width="1256" height="4" fill="#231f20"/>
<rect x="16" y="0" width="3" height="1007" fill="#231f20"/>
<rect x="15" y="0" width="1" height="1006" fill="#128898"/>
<rect x="19" y="4" width="1" height="998" fill="#128898"/>
<rect x="19" y="4" width="1250" height="1" fill="#141213"/>
<rect x="20" y="4" width="1248" height="1" fill="url(#tph)"/>
<rect x="1268" y="4" width="1" height="999" fill="#141213"/>
<rect x="1268" y="5" width="1" height="997" fill="url(#tpv)"/>
<rect x="1269" y="0" width="3" height="1007" fill="#231f20"/>
<rect x="16" y="1003" width="1256" height="4" fill="#231f20"/>
<rect x="20" y="1002" width="1248" height="1" fill="#c8c8c8"/>
<g fill="#141213"><rect x="42" y="4" width="3" height="1"/><rect x="67" y="4" width="3" height="1"/><rect x="92" y="4" width="3" height="1"/><rect x="117" y="4" width="3" height="1"/><rect x="142" y="4" width="3" height="1"/><rect x="167" y="4" width="3" height="1"/><rect x="192" y="4" width="3" height="1"/><rect x="217" y="4" width="3" height="1"/><rect x="242" y="4" width="3" height="1"/><rect x="267" y="4" width="3" height="1"/><rect x="292" y="4" width="3" height="1"/><rect x="317" y="4" width="3" height="1"/><rect x="342" y="4" width="3" height="1"/><rect x="367" y="4" width="3" height="1"/><rect x="392" y="4" width="3" height="1"/><rect x="417" y="4" width="3" height="1"/><rect x="442" y="4" width="3" height="1"/><rect x="467" y="4" width="3" height="1"/><rect x="492" y="4" width="3" height="1"/><rect x="517" y="4" width="3" height="1"/><rect x="542" y="4" width="3" height="1"/><rect x="567" y="4" width="3" height="1"/><rect x="592" y="4" width="3" height="1"/><rect x="617" y="4" width="3" height="1"/><rect x="642" y="4" width="3" height="1"/><rect x="667" y="4" width="3" height="1"/><rect x="692" y="4" width="3" height="1"/><rect x="717" y="4" width="3" height="1"/><rect x="742" y="4" width="3" height="1"/><rect x="768" y="4" width="3" height="1"/><rect x="793" y="4" width="3" height="1"/><rect x="818" y="4" width="3" height="1"/><rect x="843" y="4" width="3" height="1"/><rect x="868" y="4" width="3" height="1"/><rect x="893" y="4" width="3" height="1"/><rect x="918" y="4" width="3" height="1"/><rect x="943" y="4" width="3" height="1"/><rect x="968" y="4" width="3" height="1"/><rect x="993" y="4" width="3" height="1"/><rect x="1018" y="4" width="3" height="1"/><rect x="1043" y="4" width="3" height="1"/><rect x="1068" y="4" width="3" height="1"/><rect x="1093" y="4" width="3" height="1"/><rect x="1118" y="4" width="3" height="1"/><rect x="1143" y="4" width="3" height="1"/><rect x="1168" y="4" width="3" height="1"/><rect x="1193" y="4" width="3" height="1"/><rect x="1218" y="4" width="3" height="1"/><rect x="1243" y="4" width="3" height="1"/><rect x="1268" y="27" width="1" height="3"/><rect x="19" y="27" width="1" height="4"/><rect x="1268" y="52" width="1" height="3"/><rect x="19" y="52" width="1" height="4"/><rect x="1268" y="77" width="1" height="3"/><rect x="19" y="77" width="1" height="4"/><rect x="1268" y="102" width="1" height="3"/><rect x="19" y="102" width="1" height="4"/><rect x="1268" y="127" width="1" height="3"/><rect x="19" y="127" width="1" height="4"/><rect x="1268" y="152" width="1" height="3"/><rect x="19" y="152" width="1" height="4"/><rect x="1268" y="177" width="1" height="3"/><rect x="19" y="177" width="1" height="4"/><rect x="1268" y="202" width="1" height="3"/><rect x="19" y="202" width="1" height="4"/><rect x="1268" y="227" width="1" height="3"/><rect x="19" y="227" width="1" height="4"/><rect x="1268" y="252" width="1" height="3"/><rect x="19" y="252" width="1" height="4"/><rect x="1268" y="277" width="1" height="3"/><rect x="19" y="277" width="1" height="4"/><rect x="1268" y="302" width="1" height="3"/><rect x="19" y="302" width="1" height="4"/><rect x="1268" y="327" width="1" height="3"/><rect x="19" y="327" width="1" height="4"/><rect x="1268" y="352" width="1" height="3"/><rect x="19" y="352" width="1" height="4"/><rect x="1268" y="377" width="1" height="3"/><rect x="19" y="377" width="1" height="4"/><rect x="1268" y="402" width="1" height="3"/><rect x="19" y="402" width="1" height="4"/><rect x="1268" y="427" width="1" height="3"/><rect x="19" y="427" width="1" height="4"/><rect x="1268" y="452" width="1" height="3"/><rect x="19" y="452" width="1" height="4"/><rect x="1268" y="477" width="1" height="3"/><rect x="19" y="477" width="1" height="4"/><rect x="1268" y="502" width="1" height="3"/><rect x="19" y="502" width="1" height="4"/><rect x="1268" y="527" width="1" height="3"/><rect x="19" y="527" width="1" height="4"/><rect x="1268" y="552" width="1" height="3"/><rect x="19" y="552" width="1" height="4"/><rect x="1268" y="577" width="1" height="3"/><rect x="19" y="577" width="1" height="4"/><rect x="1268" y="602" width="1" height="3"/><rect x="19" y="602" width="1" height="4"/><rect x="1268" y="627" width="1" height="3"/><rect x="19" y="627" width="1" height="4"/><rect x="1268" y="652" width="1" height="3"/><rect x="19" y="652" width="1" height="4"/><rect x="1268" y="677" width="1" height="3"/><rect x="19" y="677" width="1" height="4"/><rect x="1268" y="702" width="1" height="3"/><rect x="19" y="702" width="1" height="4"/><rect x="1268" y="727" width="1" height="3"/><rect x="19" y="727" width="1" height="4"/><rect x="1268" y="752" width="1" height="3"/><rect x="19" y="752" width="1" height="4"/><rect x="1268" y="777" width="1" height="3"/><rect x="19" y="777" width="1" height="4"/><rect x="1268" y="802" width="1" height="3"/><rect x="19" y="802" width="1" height="4"/><rect x="1268" y="827" width="1" height="3"/><rect x="19" y="827" width="1" height="4"/><rect x="1268" y="852" width="1" height="3"/><rect x="19" y="852" width="1" height="4"/><rect x="1268" y="877" width="1" height="3"/><rect x="19" y="877" width="1" height="4"/><rect x="1268" y="902" width="1" height="3"/><rect x="19" y="902" width="1" height="4"/><rect x="1268" y="927" width="1" height="3"/><rect x="19" y="927" width="1" height="4"/><rect x="1268" y="952" width="1" height="3"/><rect x="19" y="952" width="1" height="4"/><rect x="1268" y="977" width="1" height="3"/><rect x="19" y="977" width="1" height="4"/></g>
<g fill="#128898"><rect x="43" y="1002" width="1" height="1"/><rect x="68" y="1002" width="1" height="1"/><rect x="93" y="1002" width="1" height="1"/><rect x="118" y="1002" width="1" height="1"/><rect x="143" y="1002" width="1" height="1"/><rect x="168" y="1002" width="1" height="1"/><rect x="193" y="1002" width="1" height="1"/><rect x="218" y="1002" width="1" height="1"/><rect x="243" y="1002" width="1" height="1"/><rect x="268" y="1002" width="1" height="1"/><rect x="293" y="1002" width="1" height="1"/><rect x="318" y="1002" width="1" height="1"/><rect x="343" y="1002" width="1" height="1"/><rect x="368" y="1002" width="1" height="1"/><rect x="393" y="1002" width="1" height="1"/><rect x="418" y="1002" width="1" height="1"/><rect x="443" y="1002" width="1" height="1"/><rect x="468" y="1002" width="1" height="1"/><rect x="493" y="1002" width="1" height="1"/><rect x="518" y="1002" width="1" height="1"/><rect x="543" y="1002" width="1" height="1"/><rect x="568" y="1002" width="1" height="1"/><rect x="593" y="1002" width="1" height="1"/><rect x="618" y="1002" width="1" height="1"/><rect x="643" y="1002" width="1" height="1"/><rect x="668" y="1002" width="1" height="1"/><rect x="693" y="1002" width="1" height="1"/><rect x="718" y="1002" width="1" height="1"/><rect x="743" y="1002" width="1" height="1"/><rect x="769" y="1002" width="1" height="1"/><rect x="794" y="1002" width="1" height="1"/><rect x="819" y="1002" width="1" height="1"/><rect x="844" y="1002" width="1" height="1"/><rect x="869" y="1002" width="1" height="1"/><rect x="894" y="1002" width="1" height="1"/><rect x="919" y="1002" width="1" height="1"/><rect x="944" y="1002" width="1" height="1"/><rect x="969" y="1002" width="1" height="1"/><rect x="994" y="1002" width="1" height="1"/><rect x="1019" y="1002" width="1" height="1"/><rect x="1044" y="1002" width="1" height="1"/><rect x="1069" y="1002" width="1" height="1"/><rect x="1094" y="1002" width="1" height="1"/><rect x="1119" y="1002" width="1" height="1"/><rect x="1144" y="1002" width="1" height="1"/><rect x="1169" y="1002" width="1" height="1"/><rect x="1194" y="1002" width="1" height="1"/><rect x="1219" y="1002" width="1" height="1"/><rect x="1244" y="1002" width="1" height="1"/></g>
<rect x="19" y="4" width="1" height="1" fill="#000"/>
<g fill="#141213"><rect x="19" y="248" width="1" height="7"/><rect x="19" y="498" width="1" height="7"/><rect x="19" y="739" width="1" height="9"/><rect x="19" y="872" width="1" height="9"/></g>
</g>

<polygon points="2.8,243.8 15,251.3 2.8,258.8" fill="#363435"/><polygon points="2.8,496.5 15,504 2.8,511.5" fill="#363435"/><polygon points="2.8,746.5 15,754 2.8,761.5" fill="#363435"/><polygon points="2.8,871.5 15,879 2.8,886.5" fill="#363435"/>

<g fill="#2e2b2c" style="will-change:transform" font-family="'Liberation Sans', Arial, sans-serif" font-size="33.3">
<text x="60" y="198">V</text><text x="81.7" y="205" font-size="17.6">IN</text><text x="103.1" y="198">= 10 V / div</text>
<text x="57.1" y="454.8">EN = 2 V / div</text>
<text x="60" y="696.8">V</text><text x="81.6" y="703.8" font-size="18">O</text><text x="99.7" y="696.8">= 1 V / div</text>
<text x="57.1" y="829">PGOOD = 2 V / div</text>
<text x="497" y="1054">Time = 400 µsec / div</text>
</g>
</svg></body></html>
